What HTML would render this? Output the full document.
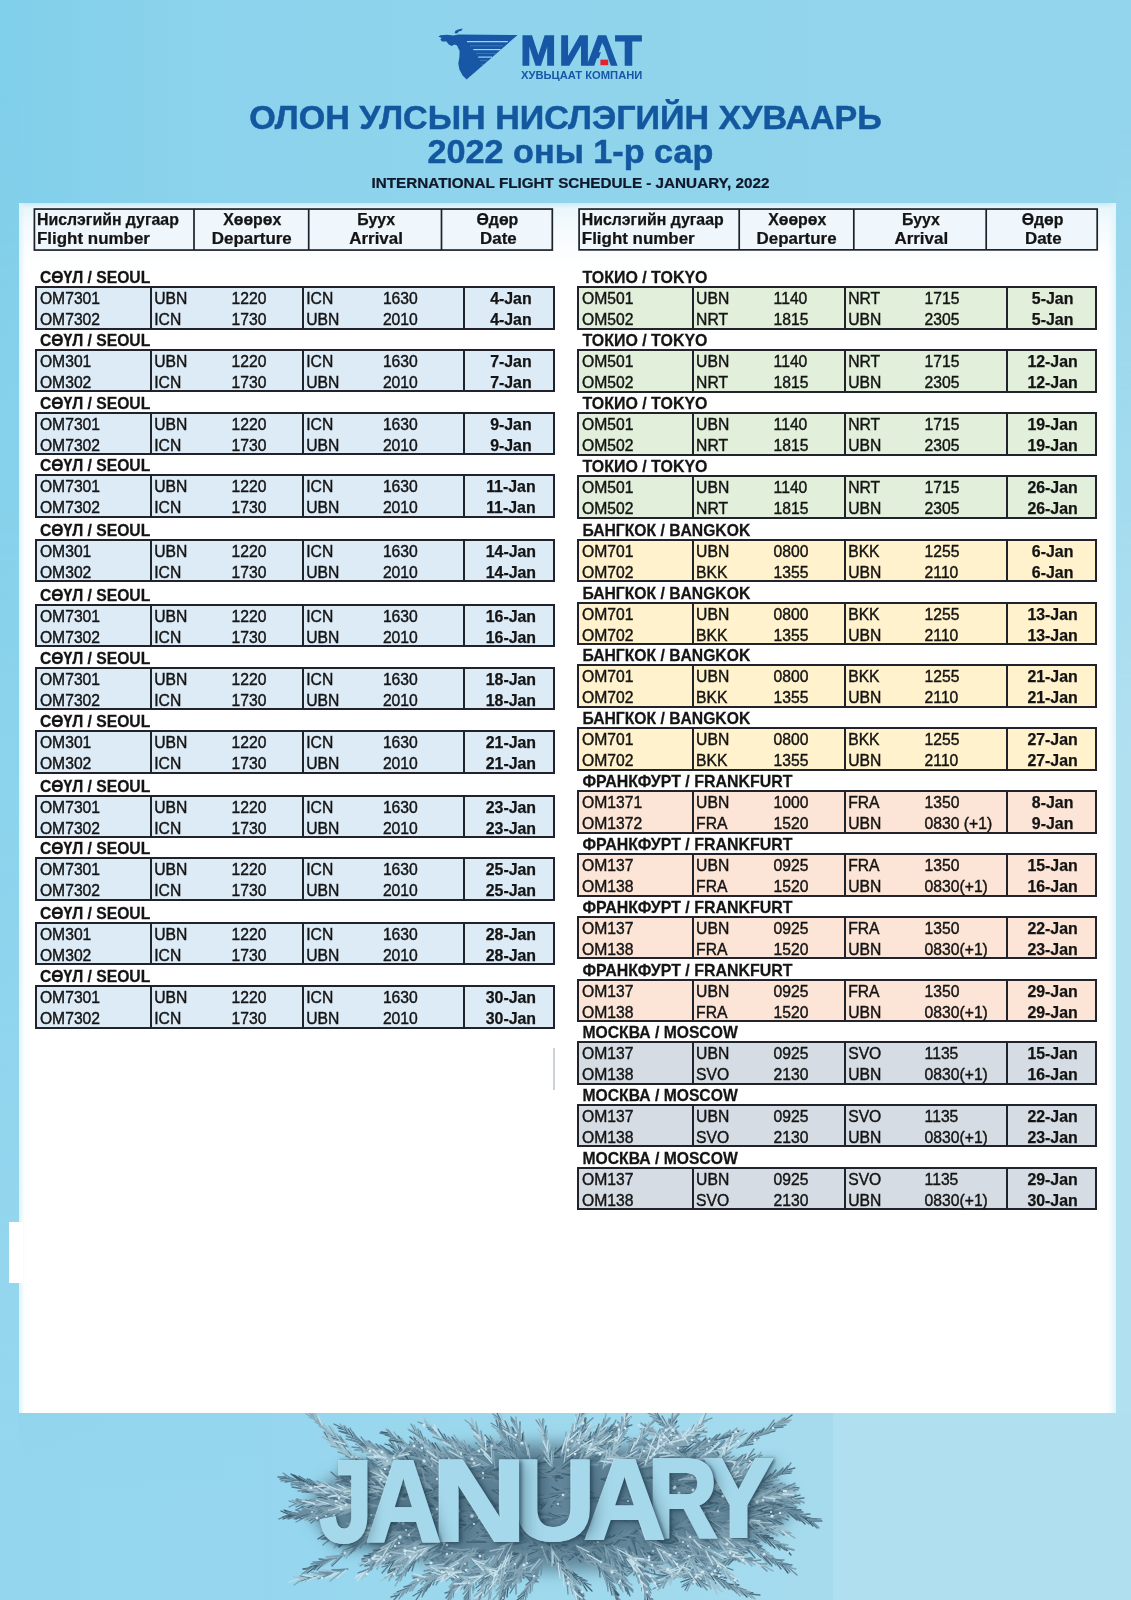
<!DOCTYPE html>
<html lang="mn">
<head>
<meta charset="utf-8">
<title>МИАТ - Олон улсын нислэгийн хуваарь</title>
<style>
html,body{margin:0;padding:0}
body{width:1131px;height:1600px;position:relative;overflow:hidden;font-family:"Liberation Sans",Arial,sans-serif;color:#141414;
 background:linear-gradient(180deg,rgba(150,215,238,0) 900px,rgba(150,215,238,.9) 1500px),linear-gradient(90deg,#80cfea 0,#8bd2ec 180px,#8fd4ec 450px,#93d5ec 100%)}
.rs{position:absolute;left:1116px;top:0;width:15px;height:1600px;background:linear-gradient(180deg,rgba(177,224,240,0) 120px,rgba(177,224,240,1) 760px)}
.ls{position:absolute;left:0;top:0;width:19px;height:1600px;background:linear-gradient(180deg,rgba(148,214,238,0) 100px,rgba(148,214,238,.6) 800px,rgba(148,214,238,1) 1450px)}
.br{position:absolute;left:833px;top:1413px;width:298px;height:187px;background:#b0dff0}
.wrap{position:absolute;left:0;top:0;width:1131px;height:1600px;filter:blur(.45px)}
.panel{position:absolute;left:19px;top:203px;width:1097px;height:1210px;
 background:linear-gradient(180deg,#c9eaf5 0,#e9f6fb 5px,#f3fafd 20px,#fbfdfe 45px,#fff 70px,#fff 100%)}
.panel:before{content:"";position:absolute;left:0;top:0;bottom:0;width:6px;background:linear-gradient(90deg,#dff2fa,rgba(255,255,255,0))}
.panel:after{content:"";position:absolute;right:0;top:0;bottom:0;width:8px;background:linear-gradient(270deg,#e3f4fa,rgba(255,255,255,0))}
.notch{position:absolute;left:9px;top:1222px;width:14px;height:61px;background:#fff}
.t1,.t2,.t3{position:absolute;left:0;width:1131px;text-align:center;font-weight:bold;white-space:nowrap;transform:scaleY(.95);transform-origin:50% 0}
.t1,.t2{color:#13579f;-webkit-text-stroke:.5px #13579f}
.t3{color:#10182b;-webkit-text-stroke:.25px #10182b}
.hdr{position:absolute;left:0;top:210px;width:1131px;height:0}
.hdr span{-webkit-text-stroke:.25px #141414;position:absolute;font-weight:bold;white-space:nowrap;transform:scaleY(.95);transform-origin:0 0;line-height:18px}
.hdr .a{font-size:15.85px;top:.8px;transform:scaleY(1)}
.hdr .b{font-size:16.95px;top:20.5px;transform:scaleY(.93)}
.hdr .m{text-align:center;width:200px}
.blk{position:absolute;box-sizing:border-box;border:2px solid #20232b}
.blk .v{position:absolute;top:0;bottom:0;width:2px;background:#20232b}
.blk .c{position:absolute;font-size:15.7px;-webkit-text-stroke:.4px #141414;line-height:18px;white-space:nowrap;transform:scaleY(1);transform-origin:0 0}
.blk .r1{top:2.2px}
.blk .r2{top:23.1px}
.blk .d{font-weight:bold;-webkit-text-stroke:.25px #141414;text-align:center;font-size:15.9px}
.lbl{-webkit-text-stroke:.25px #141414;position:absolute;top:-18.9px;font-weight:bold;font-size:15.7px;line-height:18px;white-space:nowrap;transform:scaleY(1.02);transform-origin:0 0}
.logo-t{position:absolute;left:519px;top:24px;font-size:43px;line-height:50px;font-weight:bold;color:#1757a6;white-space:nowrap;letter-spacing:0}
.logo-s{position:absolute;left:521px;top:69px;font-size:11.2px;line-height:14px;font-weight:bold;color:#1757a6;white-space:nowrap;transform:scaleY(.9);transform-origin:0 0}
.ban{position:absolute;left:265px;top:1413px;width:568px;height:187px;background:linear-gradient(90deg,#95d6ee 0,#9cd8ed 40%,#a6dbed 100%);overflow:hidden}
.jan{position:absolute;left:0;top:0}
.jan span{position:absolute;font-weight:bold;font-size:118px;line-height:118px;color:#a5d8eb;-webkit-text-stroke:2px #a5d8eb;transform-origin:0 0;filter:drop-shadow(-1px 0 0 #b9e2f1) drop-shadow(2.5px 1.5px 2px rgba(30,60,78,.75)) drop-shadow(5px 4px 7px rgba(30,60,78,.35))}
.lbl.w{font-size:15.95px;margin-left:.5px}
.lbl.n{margin-left:.5px}
</style>
</head>
<body>
<div class="wrap">
<svg style="position:absolute;left:430px;top:20px" width="100" height="70" viewBox="430 20 100 70">
 <path fill="#1757a6" d="M438.4 36.4 L440.6 35.2 L447 34.8 L453.5 35.4 L458.6 34.6 L517.6 35 L466.6 79.4 L462.6 75.6 L459.4 69.4 L458.3 63.6 L459.4 57 L459.6 51 L457 45.4 L454.6 44.4 L451.6 46 L448.8 44.4 L446.4 41.6 L442 41.4 L440.4 39.4 L441.6 38 Z"/>
 <path fill="#1757a6" d="M454.6 33.2 L455.4 30.8 L458 29.4 L462.8 28.6 L461.4 30.8 L458.8 31.6 L457 33.4 Z"/>
 <g stroke="#9ad5ee" stroke-linecap="butt">
  <path d="M467 41.7 L507.8 41.7" stroke-width="1.3"/>
  <path d="M473.3 49.6 L500.7 49.6" stroke-width="1.2"/>
  <path d="M478.2 57.1 L492 57.1" stroke-width="1.2"/>
  <path d="M470 45.8 L503 45.8 M476 53.4 L496 53.4 M480 60.6 L487.5 60.6 M481.5 64.4 L483.6 64.4" stroke-width=".5" stroke-opacity=".55"/>
 </g>
</svg>
<svg style="position:absolute;left:510px;top:20px" width="150" height="60" viewBox="510 20 150 60">
 <text x="520.2" y="65.2" dx="0 2.6 -3.6 -0.4" font-family="Liberation Sans, Arial, sans-serif" font-weight="bold" font-size="43.3" fill="#1757a6" stroke="#1757a6" stroke-width="1.3" stroke-linejoin="miter">МИАТ</text>
 <path fill="#8fd4ec" d="M595.9 66.4 L603.5 44.8 L611.1 66.4 Z"/>
 <rect x="600.4" y="59.6" width="7.8" height="5.6" fill="#e3242f"/>
</svg>
<div class="logo-s">ХУВЬЦААТ КОМПАНИ</div>
<div class="t1" style="top:99.9px;font-size:34.1px;line-height:38px">ОЛОН УЛСЫН НИСЛЭГИЙН ХУВААРЬ</div>
<div class="t2" style="left:5px;top:134px;font-size:34.2px;line-height:38px">2022 оны 1-р сар</div>
<div class="t3" style="left:5px;top:175.1px;font-size:15.25px;line-height:18px">INTERNATIONAL FLIGHT SCHEDULE - JANUARY, 2022</div>
<div class="ls"></div><div class="rs"></div><div class="br"></div>
<div class="panel"></div>
<div class="notch"></div>
<div style="position:absolute;left:553.3px;top:1047.5px;width:1.6px;height:42.5px;background:#ccd1d6"></div>
<svg style="position:absolute;left:0;top:200px" width="1131" height="60" viewBox="0 200 1131 60">
 <g fill="#eff7fc" stroke="#1e2129" stroke-width="1.7">
  <rect x="34.4" y="209.05" width="517.9" height="41"/>
  <rect x="579.1" y="209.05" width="518.1" height="40.8"/>
  <path fill="none" d="M194 209V250M308.7 209V250M441.5 209V250M739.2 209V249.8M853.8 209V249.8M986.2 209V249.8"/>
 </g>
</svg>
<div class="hdr">
 <span class="a" style="left:37px">Нислэгийн дугаар</span><span class="b" style="left:37px">Flight number</span>
 <span class="a m" style="left:152.2px">Хөөрөх</span><span class="b m" style="left:151.8px">Departure</span>
 <span class="a m" style="left:276.2px">Буух</span><span class="b m" style="left:276.1px">Arrival</span>
 <span class="a m" style="left:397.4px">Өдөр</span><span class="b m" style="left:398.4px">Date</span>
 <span class="a" style="left:581.8px">Нислэгийн дугаар</span><span class="b" style="left:581.8px">Flight number</span>
 <span class="a m" style="left:697.2px">Хөөрөх</span><span class="b m" style="left:696.6px">Departure</span>
 <span class="a m" style="left:820.9px">Буух</span><span class="b m" style="left:821.3px">Arrival</span>
 <span class="a m" style="left:942.6px">Өдөр</span><span class="b m" style="left:943.3px">Date</span>
</div>
<div class="blk" style="left:35px;top:286px;width:519.5px;height:43.5px;background:#ddebf7"><div class="lbl" style="left:2.9px">СӨҮЛ / SEOUL</div><i class="v" style="left:112.7px"></i><i class="v" style="left:264.7px"></i><i class="v" style="left:426.3px"></i><span class="c r1" style="left:2.9px">OM7301</span><span class="c r1" style="left:117.2px">UBN</span><span class="c r1" style="left:194.5px">1220</span><span class="c r1" style="left:269.2px">ICN</span><span class="c r1" style="left:345.9px">1630</span><span class="c d r1" style="left:430.3px;width:87.2px">4-Jan</span><span class="c r2" style="left:2.9px">OM7302</span><span class="c r2" style="left:117.2px">ICN</span><span class="c r2" style="left:194.5px">1730</span><span class="c r2" style="left:269.2px">UBN</span><span class="c r2" style="left:345.9px">2010</span><span class="c d r2" style="left:430.3px;width:87.2px">4-Jan</span></div>
<div class="blk" style="left:35px;top:348.5px;width:519.5px;height:43.5px;background:#ddebf7"><div class="lbl" style="left:2.9px">СӨҮЛ / SEOUL</div><i class="v" style="left:112.7px"></i><i class="v" style="left:264.7px"></i><i class="v" style="left:426.3px"></i><span class="c r1" style="left:2.9px">OM301</span><span class="c r1" style="left:117.2px">UBN</span><span class="c r1" style="left:194.5px">1220</span><span class="c r1" style="left:269.2px">ICN</span><span class="c r1" style="left:345.9px">1630</span><span class="c d r1" style="left:430.3px;width:87.2px">7-Jan</span><span class="c r2" style="left:2.9px">OM302</span><span class="c r2" style="left:117.2px">ICN</span><span class="c r2" style="left:194.5px">1730</span><span class="c r2" style="left:269.2px">UBN</span><span class="c r2" style="left:345.9px">2010</span><span class="c d r2" style="left:430.3px;width:87.2px">7-Jan</span></div>
<div class="blk" style="left:35px;top:411.5px;width:519.5px;height:43.5px;background:#ddebf7"><div class="lbl" style="left:2.9px">СӨҮЛ / SEOUL</div><i class="v" style="left:112.7px"></i><i class="v" style="left:264.7px"></i><i class="v" style="left:426.3px"></i><span class="c r1" style="left:2.9px">OM7301</span><span class="c r1" style="left:117.2px">UBN</span><span class="c r1" style="left:194.5px">1220</span><span class="c r1" style="left:269.2px">ICN</span><span class="c r1" style="left:345.9px">1630</span><span class="c d r1" style="left:430.3px;width:87.2px">9-Jan</span><span class="c r2" style="left:2.9px">OM7302</span><span class="c r2" style="left:117.2px">ICN</span><span class="c r2" style="left:194.5px">1730</span><span class="c r2" style="left:269.2px">UBN</span><span class="c r2" style="left:345.9px">2010</span><span class="c d r2" style="left:430.3px;width:87.2px">9-Jan</span></div>
<div class="blk" style="left:35px;top:474px;width:519.5px;height:43.5px;background:#ddebf7"><div class="lbl" style="left:2.9px">СӨҮЛ / SEOUL</div><i class="v" style="left:112.7px"></i><i class="v" style="left:264.7px"></i><i class="v" style="left:426.3px"></i><span class="c r1" style="left:2.9px">OM7301</span><span class="c r1" style="left:117.2px">UBN</span><span class="c r1" style="left:194.5px">1220</span><span class="c r1" style="left:269.2px">ICN</span><span class="c r1" style="left:345.9px">1630</span><span class="c d r1" style="left:430.3px;width:87.2px">11-Jan</span><span class="c r2" style="left:2.9px">OM7302</span><span class="c r2" style="left:117.2px">ICN</span><span class="c r2" style="left:194.5px">1730</span><span class="c r2" style="left:269.2px">UBN</span><span class="c r2" style="left:345.9px">2010</span><span class="c d r2" style="left:430.3px;width:87.2px">11-Jan</span></div>
<div class="blk" style="left:35px;top:538.5px;width:519.5px;height:43.5px;background:#ddebf7"><div class="lbl" style="left:2.9px">СӨҮЛ / SEOUL</div><i class="v" style="left:112.7px"></i><i class="v" style="left:264.7px"></i><i class="v" style="left:426.3px"></i><span class="c r1" style="left:2.9px">OM301</span><span class="c r1" style="left:117.2px">UBN</span><span class="c r1" style="left:194.5px">1220</span><span class="c r1" style="left:269.2px">ICN</span><span class="c r1" style="left:345.9px">1630</span><span class="c d r1" style="left:430.3px;width:87.2px">14-Jan</span><span class="c r2" style="left:2.9px">OM302</span><span class="c r2" style="left:117.2px">ICN</span><span class="c r2" style="left:194.5px">1730</span><span class="c r2" style="left:269.2px">UBN</span><span class="c r2" style="left:345.9px">2010</span><span class="c d r2" style="left:430.3px;width:87.2px">14-Jan</span></div>
<div class="blk" style="left:35px;top:603.5px;width:519.5px;height:43.5px;background:#ddebf7"><div class="lbl" style="left:2.9px">СӨҮЛ / SEOUL</div><i class="v" style="left:112.7px"></i><i class="v" style="left:264.7px"></i><i class="v" style="left:426.3px"></i><span class="c r1" style="left:2.9px">OM7301</span><span class="c r1" style="left:117.2px">UBN</span><span class="c r1" style="left:194.5px">1220</span><span class="c r1" style="left:269.2px">ICN</span><span class="c r1" style="left:345.9px">1630</span><span class="c d r1" style="left:430.3px;width:87.2px">16-Jan</span><span class="c r2" style="left:2.9px">OM7302</span><span class="c r2" style="left:117.2px">ICN</span><span class="c r2" style="left:194.5px">1730</span><span class="c r2" style="left:269.2px">UBN</span><span class="c r2" style="left:345.9px">2010</span><span class="c d r2" style="left:430.3px;width:87.2px">16-Jan</span></div>
<div class="blk" style="left:35px;top:666.5px;width:519.5px;height:43.5px;background:#ddebf7"><div class="lbl" style="left:2.9px">СӨҮЛ / SEOUL</div><i class="v" style="left:112.7px"></i><i class="v" style="left:264.7px"></i><i class="v" style="left:426.3px"></i><span class="c r1" style="left:2.9px">OM7301</span><span class="c r1" style="left:117.2px">UBN</span><span class="c r1" style="left:194.5px">1220</span><span class="c r1" style="left:269.2px">ICN</span><span class="c r1" style="left:345.9px">1630</span><span class="c d r1" style="left:430.3px;width:87.2px">18-Jan</span><span class="c r2" style="left:2.9px">OM7302</span><span class="c r2" style="left:117.2px">ICN</span><span class="c r2" style="left:194.5px">1730</span><span class="c r2" style="left:269.2px">UBN</span><span class="c r2" style="left:345.9px">2010</span><span class="c d r2" style="left:430.3px;width:87.2px">18-Jan</span></div>
<div class="blk" style="left:35px;top:730px;width:519.5px;height:43.5px;background:#ddebf7"><div class="lbl" style="left:2.9px">СӨҮЛ / SEOUL</div><i class="v" style="left:112.7px"></i><i class="v" style="left:264.7px"></i><i class="v" style="left:426.3px"></i><span class="c r1" style="left:2.9px">OM301</span><span class="c r1" style="left:117.2px">UBN</span><span class="c r1" style="left:194.5px">1220</span><span class="c r1" style="left:269.2px">ICN</span><span class="c r1" style="left:345.9px">1630</span><span class="c d r1" style="left:430.3px;width:87.2px">21-Jan</span><span class="c r2" style="left:2.9px">OM302</span><span class="c r2" style="left:117.2px">ICN</span><span class="c r2" style="left:194.5px">1730</span><span class="c r2" style="left:269.2px">UBN</span><span class="c r2" style="left:345.9px">2010</span><span class="c d r2" style="left:430.3px;width:87.2px">21-Jan</span></div>
<div class="blk" style="left:35px;top:794.5px;width:519.5px;height:43.5px;background:#ddebf7"><div class="lbl" style="left:2.9px">СӨҮЛ / SEOUL</div><i class="v" style="left:112.7px"></i><i class="v" style="left:264.7px"></i><i class="v" style="left:426.3px"></i><span class="c r1" style="left:2.9px">OM7301</span><span class="c r1" style="left:117.2px">UBN</span><span class="c r1" style="left:194.5px">1220</span><span class="c r1" style="left:269.2px">ICN</span><span class="c r1" style="left:345.9px">1630</span><span class="c d r1" style="left:430.3px;width:87.2px">23-Jan</span><span class="c r2" style="left:2.9px">OM7302</span><span class="c r2" style="left:117.2px">ICN</span><span class="c r2" style="left:194.5px">1730</span><span class="c r2" style="left:269.2px">UBN</span><span class="c r2" style="left:345.9px">2010</span><span class="c d r2" style="left:430.3px;width:87.2px">23-Jan</span></div>
<div class="blk" style="left:35px;top:857px;width:519.5px;height:43.5px;background:#ddebf7"><div class="lbl" style="left:2.9px">СӨҮЛ / SEOUL</div><i class="v" style="left:112.7px"></i><i class="v" style="left:264.7px"></i><i class="v" style="left:426.3px"></i><span class="c r1" style="left:2.9px">OM7301</span><span class="c r1" style="left:117.2px">UBN</span><span class="c r1" style="left:194.5px">1220</span><span class="c r1" style="left:269.2px">ICN</span><span class="c r1" style="left:345.9px">1630</span><span class="c d r1" style="left:430.3px;width:87.2px">25-Jan</span><span class="c r2" style="left:2.9px">OM7302</span><span class="c r2" style="left:117.2px">ICN</span><span class="c r2" style="left:194.5px">1730</span><span class="c r2" style="left:269.2px">UBN</span><span class="c r2" style="left:345.9px">2010</span><span class="c d r2" style="left:430.3px;width:87.2px">25-Jan</span></div>
<div class="blk" style="left:35px;top:921.5px;width:519.5px;height:43.5px;background:#ddebf7"><div class="lbl" style="left:2.9px">СӨҮЛ / SEOUL</div><i class="v" style="left:112.7px"></i><i class="v" style="left:264.7px"></i><i class="v" style="left:426.3px"></i><span class="c r1" style="left:2.9px">OM301</span><span class="c r1" style="left:117.2px">UBN</span><span class="c r1" style="left:194.5px">1220</span><span class="c r1" style="left:269.2px">ICN</span><span class="c r1" style="left:345.9px">1630</span><span class="c d r1" style="left:430.3px;width:87.2px">28-Jan</span><span class="c r2" style="left:2.9px">OM302</span><span class="c r2" style="left:117.2px">ICN</span><span class="c r2" style="left:194.5px">1730</span><span class="c r2" style="left:269.2px">UBN</span><span class="c r2" style="left:345.9px">2010</span><span class="c d r2" style="left:430.3px;width:87.2px">28-Jan</span></div>
<div class="blk" style="left:35px;top:985px;width:519.5px;height:43.5px;background:#ddebf7"><div class="lbl" style="left:2.9px">СӨҮЛ / SEOUL</div><i class="v" style="left:112.7px"></i><i class="v" style="left:264.7px"></i><i class="v" style="left:426.3px"></i><span class="c r1" style="left:2.9px">OM7301</span><span class="c r1" style="left:117.2px">UBN</span><span class="c r1" style="left:194.5px">1220</span><span class="c r1" style="left:269.2px">ICN</span><span class="c r1" style="left:345.9px">1630</span><span class="c d r1" style="left:430.3px;width:87.2px">30-Jan</span><span class="c r2" style="left:2.9px">OM7302</span><span class="c r2" style="left:117.2px">ICN</span><span class="c r2" style="left:194.5px">1730</span><span class="c r2" style="left:269.2px">UBN</span><span class="c r2" style="left:345.9px">2010</span><span class="c d r2" style="left:430.3px;width:87.2px">30-Jan</span></div>
<div class="blk" style="left:576.5px;top:286px;width:520.2px;height:43.5px;background:#e2efda"><div class="lbl w" style="left:3.5px">ТОКИО / TOKYO</div><i class="v" style="left:113.1px"></i><i class="v" style="left:265.3px"></i><i class="v" style="left:427px"></i><span class="c r1" style="left:3.5px">OM501</span><span class="c r1" style="left:117.6px">UBN</span><span class="c r1" style="left:195.1px">1140</span><span class="c r1" style="left:269.7px">NRT</span><span class="c r1" style="left:346.1px">1715</span><span class="c d r1" style="left:430.5px;width:87.2px">5-Jan</span><span class="c r2" style="left:3.5px">OM502</span><span class="c r2" style="left:117.6px">NRT</span><span class="c r2" style="left:195.1px">1815</span><span class="c r2" style="left:269.7px">UBN</span><span class="c r2" style="left:346.1px">2305</span><span class="c d r2" style="left:430.5px;width:87.2px">5-Jan</span></div>
<div class="blk" style="left:576.5px;top:349px;width:520.2px;height:43.5px;background:#e2efda"><div class="lbl w" style="left:3.5px">ТОКИО / TOKYO</div><i class="v" style="left:113.1px"></i><i class="v" style="left:265.3px"></i><i class="v" style="left:427px"></i><span class="c r1" style="left:3.5px">OM501</span><span class="c r1" style="left:117.6px">UBN</span><span class="c r1" style="left:195.1px">1140</span><span class="c r1" style="left:269.7px">NRT</span><span class="c r1" style="left:346.1px">1715</span><span class="c d r1" style="left:430.5px;width:87.2px">12-Jan</span><span class="c r2" style="left:3.5px">OM502</span><span class="c r2" style="left:117.6px">NRT</span><span class="c r2" style="left:195.1px">1815</span><span class="c r2" style="left:269.7px">UBN</span><span class="c r2" style="left:346.1px">2305</span><span class="c d r2" style="left:430.5px;width:87.2px">12-Jan</span></div>
<div class="blk" style="left:576.5px;top:412px;width:520.2px;height:43.5px;background:#e2efda"><div class="lbl w" style="left:3.5px">ТОКИО / TOKYO</div><i class="v" style="left:113.1px"></i><i class="v" style="left:265.3px"></i><i class="v" style="left:427px"></i><span class="c r1" style="left:3.5px">OM501</span><span class="c r1" style="left:117.6px">UBN</span><span class="c r1" style="left:195.1px">1140</span><span class="c r1" style="left:269.7px">NRT</span><span class="c r1" style="left:346.1px">1715</span><span class="c d r1" style="left:430.5px;width:87.2px">19-Jan</span><span class="c r2" style="left:3.5px">OM502</span><span class="c r2" style="left:117.6px">NRT</span><span class="c r2" style="left:195.1px">1815</span><span class="c r2" style="left:269.7px">UBN</span><span class="c r2" style="left:346.1px">2305</span><span class="c d r2" style="left:430.5px;width:87.2px">19-Jan</span></div>
<div class="blk" style="left:576.5px;top:475px;width:520.2px;height:43.5px;background:#e2efda"><div class="lbl w" style="left:3.5px">ТОКИО / TOKYO</div><i class="v" style="left:113.1px"></i><i class="v" style="left:265.3px"></i><i class="v" style="left:427px"></i><span class="c r1" style="left:3.5px">OM501</span><span class="c r1" style="left:117.6px">UBN</span><span class="c r1" style="left:195.1px">1140</span><span class="c r1" style="left:269.7px">NRT</span><span class="c r1" style="left:346.1px">1715</span><span class="c d r1" style="left:430.5px;width:87.2px">26-Jan</span><span class="c r2" style="left:3.5px">OM502</span><span class="c r2" style="left:117.6px">NRT</span><span class="c r2" style="left:195.1px">1815</span><span class="c r2" style="left:269.7px">UBN</span><span class="c r2" style="left:346.1px">2305</span><span class="c d r2" style="left:430.5px;width:87.2px">26-Jan</span></div>
<div class="blk" style="left:576.5px;top:538.5px;width:520.2px;height:43.5px;background:#fff2cc"><div class="lbl n" style="left:3.5px">БАНГКОК / BANGKOK</div><i class="v" style="left:113.1px"></i><i class="v" style="left:265.3px"></i><i class="v" style="left:427px"></i><span class="c r1" style="left:3.5px">OM701</span><span class="c r1" style="left:117.6px">UBN</span><span class="c r1" style="left:195.1px">0800</span><span class="c r1" style="left:269.7px">BKK</span><span class="c r1" style="left:346.1px">1255</span><span class="c d r1" style="left:430.5px;width:87.2px">6-Jan</span><span class="c r2" style="left:3.5px">OM702</span><span class="c r2" style="left:117.6px">BKK</span><span class="c r2" style="left:195.1px">1355</span><span class="c r2" style="left:269.7px">UBN</span><span class="c r2" style="left:346.1px">2110</span><span class="c d r2" style="left:430.5px;width:87.2px">6-Jan</span></div>
<div class="blk" style="left:576.5px;top:601.5px;width:520.2px;height:43.5px;background:#fff2cc"><div class="lbl n" style="left:3.5px">БАНГКОК / BANGKOK</div><i class="v" style="left:113.1px"></i><i class="v" style="left:265.3px"></i><i class="v" style="left:427px"></i><span class="c r1" style="left:3.5px">OM701</span><span class="c r1" style="left:117.6px">UBN</span><span class="c r1" style="left:195.1px">0800</span><span class="c r1" style="left:269.7px">BKK</span><span class="c r1" style="left:346.1px">1255</span><span class="c d r1" style="left:430.5px;width:87.2px">13-Jan</span><span class="c r2" style="left:3.5px">OM702</span><span class="c r2" style="left:117.6px">BKK</span><span class="c r2" style="left:195.1px">1355</span><span class="c r2" style="left:269.7px">UBN</span><span class="c r2" style="left:346.1px">2110</span><span class="c d r2" style="left:430.5px;width:87.2px">13-Jan</span></div>
<div class="blk" style="left:576.5px;top:664px;width:520.2px;height:43.5px;background:#fff2cc"><div class="lbl n" style="left:3.5px">БАНГКОК / BANGKOK</div><i class="v" style="left:113.1px"></i><i class="v" style="left:265.3px"></i><i class="v" style="left:427px"></i><span class="c r1" style="left:3.5px">OM701</span><span class="c r1" style="left:117.6px">UBN</span><span class="c r1" style="left:195.1px">0800</span><span class="c r1" style="left:269.7px">BKK</span><span class="c r1" style="left:346.1px">1255</span><span class="c d r1" style="left:430.5px;width:87.2px">21-Jan</span><span class="c r2" style="left:3.5px">OM702</span><span class="c r2" style="left:117.6px">BKK</span><span class="c r2" style="left:195.1px">1355</span><span class="c r2" style="left:269.7px">UBN</span><span class="c r2" style="left:346.1px">2110</span><span class="c d r2" style="left:430.5px;width:87.2px">21-Jan</span></div>
<div class="blk" style="left:576.5px;top:727px;width:520.2px;height:43.5px;background:#fff2cc"><div class="lbl n" style="left:3.5px">БАНГКОК / BANGKOK</div><i class="v" style="left:113.1px"></i><i class="v" style="left:265.3px"></i><i class="v" style="left:427px"></i><span class="c r1" style="left:3.5px">OM701</span><span class="c r1" style="left:117.6px">UBN</span><span class="c r1" style="left:195.1px">0800</span><span class="c r1" style="left:269.7px">BKK</span><span class="c r1" style="left:346.1px">1255</span><span class="c d r1" style="left:430.5px;width:87.2px">27-Jan</span><span class="c r2" style="left:3.5px">OM702</span><span class="c r2" style="left:117.6px">BKK</span><span class="c r2" style="left:195.1px">1355</span><span class="c r2" style="left:269.7px">UBN</span><span class="c r2" style="left:346.1px">2110</span><span class="c d r2" style="left:430.5px;width:87.2px">27-Jan</span></div>
<div class="blk" style="left:576.5px;top:790px;width:520.2px;height:43.5px;background:#fce4d6"><div class="lbl w" style="left:3.5px">ФРАНКФУРТ / FRANKFURT</div><i class="v" style="left:113.1px"></i><i class="v" style="left:265.3px"></i><i class="v" style="left:427px"></i><span class="c r1" style="left:3.5px">OM1371</span><span class="c r1" style="left:117.6px">UBN</span><span class="c r1" style="left:195.1px">1000</span><span class="c r1" style="left:269.7px">FRA</span><span class="c r1" style="left:346.1px">1350</span><span class="c d r1" style="left:430.5px;width:87.2px">8-Jan</span><span class="c r2" style="left:3.5px">OM1372</span><span class="c r2" style="left:117.6px">FRA</span><span class="c r2" style="left:195.1px">1520</span><span class="c r2" style="left:269.7px">UBN</span><span class="c r2" style="left:346.1px">0830 (+1)</span><span class="c d r2" style="left:430.5px;width:87.2px">9-Jan</span></div>
<div class="blk" style="left:576.5px;top:853px;width:520.2px;height:43.5px;background:#fce4d6"><div class="lbl w" style="left:3.5px">ФРАНКФУРТ / FRANKFURT</div><i class="v" style="left:113.1px"></i><i class="v" style="left:265.3px"></i><i class="v" style="left:427px"></i><span class="c r1" style="left:3.5px">OM137</span><span class="c r1" style="left:117.6px">UBN</span><span class="c r1" style="left:195.1px">0925</span><span class="c r1" style="left:269.7px">FRA</span><span class="c r1" style="left:346.1px">1350</span><span class="c d r1" style="left:430.5px;width:87.2px">15-Jan</span><span class="c r2" style="left:3.5px">OM138</span><span class="c r2" style="left:117.6px">FRA</span><span class="c r2" style="left:195.1px">1520</span><span class="c r2" style="left:269.7px">UBN</span><span class="c r2" style="left:346.1px">0830(+1)</span><span class="c d r2" style="left:430.5px;width:87.2px">16-Jan</span></div>
<div class="blk" style="left:576.5px;top:915.5px;width:520.2px;height:43.5px;background:#fce4d6"><div class="lbl w" style="left:3.5px">ФРАНКФУРТ / FRANKFURT</div><i class="v" style="left:113.1px"></i><i class="v" style="left:265.3px"></i><i class="v" style="left:427px"></i><span class="c r1" style="left:3.5px">OM137</span><span class="c r1" style="left:117.6px">UBN</span><span class="c r1" style="left:195.1px">0925</span><span class="c r1" style="left:269.7px">FRA</span><span class="c r1" style="left:346.1px">1350</span><span class="c d r1" style="left:430.5px;width:87.2px">22-Jan</span><span class="c r2" style="left:3.5px">OM138</span><span class="c r2" style="left:117.6px">FRA</span><span class="c r2" style="left:195.1px">1520</span><span class="c r2" style="left:269.7px">UBN</span><span class="c r2" style="left:346.1px">0830(+1)</span><span class="c d r2" style="left:430.5px;width:87.2px">23-Jan</span></div>
<div class="blk" style="left:576.5px;top:978.5px;width:520.2px;height:43.5px;background:#fce4d6"><div class="lbl w" style="left:3.5px">ФРАНКФУРТ / FRANKFURT</div><i class="v" style="left:113.1px"></i><i class="v" style="left:265.3px"></i><i class="v" style="left:427px"></i><span class="c r1" style="left:3.5px">OM137</span><span class="c r1" style="left:117.6px">UBN</span><span class="c r1" style="left:195.1px">0925</span><span class="c r1" style="left:269.7px">FRA</span><span class="c r1" style="left:346.1px">1350</span><span class="c d r1" style="left:430.5px;width:87.2px">29-Jan</span><span class="c r2" style="left:3.5px">OM138</span><span class="c r2" style="left:117.6px">FRA</span><span class="c r2" style="left:195.1px">1520</span><span class="c r2" style="left:269.7px">UBN</span><span class="c r2" style="left:346.1px">0830(+1)</span><span class="c d r2" style="left:430.5px;width:87.2px">29-Jan</span></div>
<div class="blk" style="left:576.5px;top:1041px;width:520.2px;height:43.5px;background:#d6dce4"><div class="lbl n" style="left:3.5px">МОСКВА / MOSCOW</div><i class="v" style="left:113.1px"></i><i class="v" style="left:265.3px"></i><i class="v" style="left:427px"></i><span class="c r1" style="left:3.5px">OM137</span><span class="c r1" style="left:117.6px">UBN</span><span class="c r1" style="left:195.1px">0925</span><span class="c r1" style="left:269.7px">SVO</span><span class="c r1" style="left:346.1px">1135</span><span class="c d r1" style="left:430.5px;width:87.2px">15-Jan</span><span class="c r2" style="left:3.5px">OM138</span><span class="c r2" style="left:117.6px">SVO</span><span class="c r2" style="left:195.1px">2130</span><span class="c r2" style="left:269.7px">UBN</span><span class="c r2" style="left:346.1px">0830(+1)</span><span class="c d r2" style="left:430.5px;width:87.2px">16-Jan</span></div>
<div class="blk" style="left:576.5px;top:1103.5px;width:520.2px;height:43.5px;background:#d6dce4"><div class="lbl n" style="left:3.5px">МОСКВА / MOSCOW</div><i class="v" style="left:113.1px"></i><i class="v" style="left:265.3px"></i><i class="v" style="left:427px"></i><span class="c r1" style="left:3.5px">OM137</span><span class="c r1" style="left:117.6px">UBN</span><span class="c r1" style="left:195.1px">0925</span><span class="c r1" style="left:269.7px">SVO</span><span class="c r1" style="left:346.1px">1135</span><span class="c d r1" style="left:430.5px;width:87.2px">22-Jan</span><span class="c r2" style="left:3.5px">OM138</span><span class="c r2" style="left:117.6px">SVO</span><span class="c r2" style="left:195.1px">2130</span><span class="c r2" style="left:269.7px">UBN</span><span class="c r2" style="left:346.1px">0830(+1)</span><span class="c d r2" style="left:430.5px;width:87.2px">23-Jan</span></div>
<div class="blk" style="left:576.5px;top:1166.5px;width:520.2px;height:43.5px;background:#d6dce4"><div class="lbl n" style="left:3.5px">МОСКВА / MOSCOW</div><i class="v" style="left:113.1px"></i><i class="v" style="left:265.3px"></i><i class="v" style="left:427px"></i><span class="c r1" style="left:3.5px">OM137</span><span class="c r1" style="left:117.6px">UBN</span><span class="c r1" style="left:195.1px">0925</span><span class="c r1" style="left:269.7px">SVO</span><span class="c r1" style="left:346.1px">1135</span><span class="c d r1" style="left:430.5px;width:87.2px">29-Jan</span><span class="c r2" style="left:3.5px">OM138</span><span class="c r2" style="left:117.6px">SVO</span><span class="c r2" style="left:195.1px">2130</span><span class="c r2" style="left:269.7px">UBN</span><span class="c r2" style="left:346.1px">0830(+1)</span><span class="c d r2" style="left:430.5px;width:87.2px">30-Jan</span></div>

<div class="ban">
<svg style="position:absolute;left:0;top:0" width="568" height="187" viewBox="0 0 568 187">
<defs><filter id="bl" x="-20%" y="-40%" width="140%" height="180%"><feGaussianBlur stdDeviation="8"/></filter></defs>
<ellipse cx="285" cy="94" rx="240" ry="64" fill="#62869a" filter="url(#bl)"/>
<path d="M256 100l-16 4M254 100l-12 -1M248 101l-13 7M244 101l-13 3M242 101l-11 -2M240 101l-16 6M236 101l-11 6M228 102l-10 3M226 102l-16 -2M224 102l-14 6M220 102l-9 4M218 102l-12 -4M216 103l-10 3M210 103l-12 -3M204 103l-10 5M200 103l-8 4M198 104l-8 -2M377 139l12 4M381 139l18 7M385 140l10 5M397 141l8 5M407 142l9 -2M411 143l9 -1M413 143l12 4M506 91l14 0M513 94l18 1M519 96l13 11M520 97l16 -0M530 101l10 10M537 104l9 6M539 105l13 1M541 106l7 7M289 134l-18 -4M272 138l-15 6M258 141l-12 -1M256 141l-11 8M254 142l-10 -2M252 142l-9 4M249 143l-9 6M247 143l-11 -2M278 64l20 1M280 63l10 -8M290 59l15 -3M295 57l14 -9M303 54l13 -9M307 53l9 -7M312 51l12 -2M320 48l13 0M322 48l12 -8M331 44l10 -0M337 42l7 -6M342 40l10 -1M359 89l-13 -8M357 89l-18 1M351 88l-14 -8M349 88l-15 3M345 87l-11 -0M335 85l-12 -8M333 85l-15 1M329 84l-14 3M323 83l-10 -7M321 83l-10 2M299 79l-8 -3M295 79l-8 -5M173 62l-8 8M162 68l-7 8M159 70l-8 6M148 75l-10 11M144 77l-9 10M137 81l-8 10M134 83l-8 7M132 84l-12 1M361 123l-12 2M359 124l-12 9M356 125l-11 7M348 128l-10 7M344 129l-11 8M339 131l-10 1M329 135l-8 7M324 137l-11 -0M320 138l-10 0M316 140l-12 0M314 140l-7 4M313 141l-9 1M311 142l-7 5M396 69l12 -3M402 70l14 7M406 70l13 4M420 71l12 -2M438 73l11 3M317 133l10 -7M325 131l9 -7M327 131l12 -0M333 130l10 -5M337 129l8 -6M341 128l9 -6M343 127l13 -1M347 126l14 1M354 124l9 1M358 123l12 2M368 121l8 -6M480 102l15 -5M482 103l13 9M484 103l13 -4M488 104l12 -4M492 104l11 -2M496 105l14 -3M502 106l8 5M510 107l8 4M157 80l13 -4M159 79l13 -12M164 76l16 -4M166 74l10 -11M176 68l8 -8M195 57l12 -1M94 84l13 3M102 83l18 0M106 82l12 1M114 81l13 1M124 80l10 -4M126 79l14 4M142 77l13 1M144 77l9 -5M158 75l11 3M238 106l11 14M241 109l11 10M246 112l14 6M248 113l10 9M255 117l8 8M258 119l10 10M260 121l11 3M265 124l8 11M278 133l6 6M303 103l-13 -1M295 104l-11 -4M289 105l-12 4M283 105l-10 -2M281 105l-11 6M261 107l-10 3M249 108l-10 6M250 67l15 -8M252 66l15 1M258 65l16 -10M260 65l12 0M266 64l11 -5M278 62l12 -7M284 61l11 3M292 60l13 2M294 60l8 -5M252 49l12 11M257 51l18 1M261 53l12 0M270 56l9 7M285 62l7 6M287 62l8 1M424 125l-17 4M420 127l-17 6M413 131l-14 5M411 132l-10 12M403 137l-12 2M394 142l-10 10M384 148l-6 8M379 151l-8 1M171 66l-9 -13M164 62l-6 -8M152 55l-13 -4M150 54l-7 -11M145 51l-8 -1M435 111l18 -3M437 110l9 -11M442 106l17 -6M447 103l6 -10M457 96l7 -9M460 94l10 -10M465 91l12 -4M466 90l6 -9M364 83l12 3M368 85l17 5M371 87l17 3M376 90l11 11M380 92l10 8M387 96l10 9M276 133l-12 0M254 128l-14 -9M243 125l-10 -7M241 125l-11 -1M233 123l-13 0M229 122l-10 -1M227 122l-9 -5M221 120l-9 -0M152 131l-9 -10M150 130l-13 -2M138 124l-11 -11M127 118l-7 -7M259 79l-10 -10M245 72l-10 -7M231 65l-6 -6M202 129l19 -0M217 124l16 -2M223 121l9 -6M232 118l11 -2M236 117l7 -1M238 116l7 -5M256 58l17 -1M260 56l15 -4M267 53l16 -5M271 51l16 -3M281 46l15 -2M283 45l11 -8M287 43l12 -9M289 42l13 -1M290 41l9 -10M297 37l7 -7M301 36l9 -9M306 33l12 -3M336 66l16 4M338 66l12 -4M350 66l18 -3M354 66l15 -3M364 66l11 4M382 66l11 -3M386 66l10 -3M388 66l11 5M390 66l10 -4M394 66l8 -1M398 66l7 -3M130 120l17 -3M134 119l12 -3M137 117l18 -3M139 116l12 -11M145 113l15 -2M150 111l9 -10M159 106l14 -4M164 104l7 -8M166 103l9 -2M172 100l10 -7M173 99l9 -1M177 98l12 -3M181 96l9 -1M182 95l6 -5M184 94l11 -0M158 130l-15 1M156 131l-15 11M152 132l-14 9M131 138l-11 1M123 141l-9 -1M122 141l-10 7M110 145l-7 4M108 145l-11 1M309 76l-17 2M298 81l-11 3M296 82l-9 6M293 84l-7 10M282 89l-6 7M280 90l-13 3M278 91l-7 7M277 92l-13 1M273 94l-8 1M271 95l-9 8M270 96l-10 0M268 97l-9 8M194 89l-19 1M191 91l-16 -1M179 95l-13 2M166 100l-9 10M161 102l-15 -0M159 102l-8 8M144 108l-8 7M142 109l-13 -1M134 111l-13 0M362 54l13 -11M366 52l8 -7M375 49l10 -0M381 46l12 -9M387 44l12 0M392 42l10 -8M396 46l14 1M410 42l11 -10M415 40l11 -2M417 39l12 -10M421 38l13 -8M423 37l9 1M432 34l9 -9M434 33l8 -1M81 89l-17 8M79 89l-12 -4M73 89l-16 6M71 89l-15 -6M67 90l-14 -3M65 90l-10 3M55 91l-10 -2M53 91l-11 4M45 91l-8 3M127 108l17 0M131 109l15 -1M144 112l13 8M146 113l10 -2M148 113l12 5M154 114l12 -1M156 115l10 5M158 115l10 0M170 118l9 -0M301 139l16 0M175 130l-17 9M171 131l-15 9M169 131l-11 -1M165 131l-17 -3M161 132l-13 -2M157 132l-10 -2M155 133l-12 6M151 133l-12 4M149 133l-15 -4M139 135l-9 5M131 136l-10 4M60 75l-16 -1M52 73l-12 2M51 72l-9 -6M49 72l-12 -1M43 70l-14 -8M39 69l-11 -7M35 68l-9 -7M155 77l-15 -9M150 76l-18 2M144 74l-12 -5M142 74l-14 2M136 73l-10 -6M132 72l-10 -5M130 72l-15 0M120 70l-11 -6M118 69l-10 2M104 67l-9 -4M102 66l-12 2M97 65l-9 -5M95 65l-8 0M51 101l-16 5M43 101l-12 5M35 101l-11 2M33 101l-14 -4M31 102l-13 4M29 102l-9 -4M27 102l-9 2M25 102l-9 -4M141 123l13 8M147 124l13 -3M149 124l15 10M167 127l13 -3M170 128l13 -1M172 128l7 4M176 129l9 4M214 107l-12 7M208 109l-17 2M201 112l-12 2M199 112l-11 9M195 114l-13 8M193 114l-10 -1M191 115l-10 7M186 117l-10 1M351 102l13 -1M369 104l10 5M381 106l11 5M389 107l11 5M164 93l15 12M166 94l12 1M168 94l12 7M175 96l12 6M199 103l8 6M200 103l9 -0M202 104l11 5M206 105l12 7M216 107l12 -0M220 108l9 -1M222 109l7 4M230 67l-11 -8M227 66l-11 -8M225 65l-12 0M221 64l-13 0M205 61l-16 2M189 58l-11 1M184 56l-9 -6M172 54l-9 -4M166 52l-12 2M157 81l18 -1M159 81l18 6M161 81l17 -4M163 82l12 7M166 82l12 6M172 83l14 -4M180 85l14 -1M184 85l11 -2M188 86l13 -3M192 87l9 -2M198 88l8 5M202 88l11 6M204 89l9 -1M208 89l9 -1M168 108l15 5M176 108l11 5M178 109l11 -1M185 109l14 -4M187 109l13 4M189 109l13 -2M191 109l12 3M195 110l8 4M197 110l11 -3M199 110l9 3M201 110l12 -1M330 86l13 -4M356 88l10 5M384 90l9 3M257 118l16 3M273 125l13 9M275 126l16 0M281 128l8 9M290 132l12 -0M291 133l10 9M304 139l12 3M308 141l12 3M310 142l6 7M312 142l12 0M315 144l12 3M313 121l9 10M314 122l12 2M318 124l11 2M320 125l9 8M321 126l15 5M326 129l11 10M330 131l8 8M339 136l12 2M386 126l16 -1M390 124l14 -0M399 120l7 -7M404 118l13 -3M422 109l10 -0M426 108l12 -1M430 106l8 -1M431 105l9 -6M433 104l11 -1M496 92l-16 3M492 92l-15 4M478 91l-15 -5M474 91l-13 -6M452 89l-10 3M448 89l-10 2M446 89l-10 -5M127 128l15 13M133 130l18 2M138 132l8 9M164 142l10 7M166 143l10 1M177 147l9 -0M179 148l8 9M183 150l9 9M185 150l8 -0M187 151l8 6M190 152l7 4M192 105l-18 -2M189 103l-18 -4M174 96l-13 -1M169 94l-10 -7M167 93l-11 -2M156 88l-10 -1M389 66l11 9M391 67l13 3M392 68l13 11M401 72l13 2M405 74l10 2M407 75l11 10M410 77l10 8M417 80l6 7M419 81l10 1M421 82l7 5M423 83l9 3M167 69l10 -6M169 69l12 3M173 68l11 -0M185 66l15 -1M187 65l12 -4M189 65l10 1M191 64l10 -4M193 64l11 -0M195 64l10 -4M197 63l11 2M201 63l9 2M211 61l8 -4M216 60l12 3M220 59l11 3M226 58l10 -4M228 57l11 -0M433 124l-10 12M426 128l-8 9M419 131l-12 10M416 133l-11 12M412 135l-8 7M410 136l-13 2M407 138l-12 4M403 140l-13 2M400 142l-8 2M396 143l-11 2M227 77l14 8M233 78l18 -0M239 79l16 7M241 80l17 -4M245 80l11 -2M255 82l10 5M257 83l11 0M263 84l8 5M267 85l9 6M276 87l11 -2M280 87l11 0M185 99l-12 6M179 99l-13 -4M165 101l-10 3M153 102l-15 6M151 102l-14 -2M143 102l-10 -3M137 103l-12 6M131 103l-10 -2M129 104l-9 5M123 104l-8 -2M401 74l9 7M405 75l14 7M413 77l13 10M415 78l10 1M417 78l13 10M425 80l10 6M436 83l8 3M444 85l10 7M448 85l6 4M450 86l12 1M283 105l-12 -5M280 104l-15 -10M270 102l-18 4M250 97l-11 2M248 97l-13 -8M237 94l-12 -6M235 93l-9 1M231 92l-11 1M215 88l-9 -0M486 91l-15 -9M482 90l-17 -9M474 88l-14 -10M470 87l-11 -7M466 87l-13 -9M462 86l-12 -8M458 85l-11 -4M451 83l-11 -6M445 82l-12 -0M439 80l-9 -5M425 77l-9 1M476 96l12 4M482 96l9 -2M492 97l13 3M494 97l8 -3M496 97l10 4M502 97l7 -3M478 118l14 -2M489 121l8 -2M491 121l10 6M495 122l5 4M465 108l11 5M473 110l13 7M481 111l8 5M490 113l11 0M500 116l8 4M473 114l15 -1M477 115l16 3M490 120l10 9M492 121l12 2M495 123l13 3M499 124l9 1M501 125l9 10M513 131l7 1M519 134l7 8M478 125l13 3M493 135l6 7M497 137l5 7M463 120l9 0M471 123l10 0M419 138l17 2M425 141l7 9M437 147l7 2M408 122l10 12M421 129l12 1M441 141l12 4M394 129l17 2M399 132l7 6M408 137l10 1M416 142l8 9M364 134l1 14M366 138l3 10M376 159l0 10M380 173l5 10M383 182l-1 9M324 135l4 17M325 136l11 13M327 140l9 6M329 143l10 7M332 148l3 11M333 150l12 11M347 174l7 8M349 178l4 5M350 180l2 8M352 185l5 6M280 137l6 11M284 141l14 7M288 146l9 12M290 147l10 4M291 148l8 13M294 151l7 14M300 156l3 7M302 157l10 5M305 160l7 2M308 162l9 3M316 168l6 10M319 170l8 8M219 139l-8 7M215 148l-1 15M215 150l-7 6M212 156l-0 9M200 190l-1 9M200 191l-6 7M205 140l-8 7M185 149l-4 11M179 155l-3 9M178 156l-8 6M168 167l-4 7M169 123l-5 16M168 125l-14 8M149 148l-6 10M133 138l-8 9M128 141l-10 1M121 121l-10 -2M117 121l-13 -5M107 121l-13 6M101 121l-12 -2M87 122l-9 2M96 119l-14 7M70 124l-11 1M69 124l-6 3M93 123l-8 5M86 125l-6 4M82 127l-8 7M112 103l-16 2M107 105l-8 7M103 93l-14 3M99 93l-10 3M97 93l-15 -3M93 93l-10 -2M84 85l-10 -6M74 84l-15 2M66 83l-14 2M64 82l-11 -8M50 79l-9 0M110 58l-6 -8M101 53l-8 -3M98 51l-13 -3M91 47l-10 -4M145 49l-7 -11M142 46l-5 -9M141 45l-9 -4M139 43l-4 -9M135 39l-9 -5M129 34l-9 -3M162 44l-10 -7M151 30l-2 -6M150 28l-5 -4M157 46l-9 -8M149 41l-11 -3M191 54l-7 -8M222 57l-11 -6M205 39l-9 -3M321 43l9 -4M322 42l5 -8M327 38l10 -4M333 33l15 -6M339 28l13 -6M341 27l4 -8M342 25l11 -2M393 41l2 -14M394 39l10 -10M399 29l11 -10M404 18l8 -10M410 55l13 -3M415 51l7 -10M434 37l7 -10M437 34l3 -6M436 62l12 -1M449 57l10 -10M458 53l16 -0M475 48l6 -5M481 47l11 0M484 75l15 2M494 74l9 -2M500 74l7 3M455 77l16 3M459 77l9 5M471 78l14 5M483 79l11 4M493 81l9 -2M496 71l10 -10M517 60l6 -7M481 86l15 2M488 83l10 1M504 79l14 -0M512 77l13 2M508 85l13 5M526 85l9 -3M78 87l-10 -3M50 89l-10 -1M42 90l-10 -4M114 111l-13 -0M110 112l-13 1M108 112l-10 8M123 56l-11 -7M108 52l-8 -3M100 51l-7 -3M321 32l3 -8M322 31l9 -5M329 23l3 -7M344 47l1 -16M347 42l8 -9M110 79l-11 0M108 78l-10 -8M102 76l-15 -2M87 71l-7 -0M85 70l-9 -5M80 68l-9 -1M366 125l4 9M368 126l11 10M369 128l3 15M377 139l10 8M383 147l2 9M386 152l8 5M344 138l5 10M348 142l9 7M353 148l7 3M356 151l10 6M427 126l11 7M311 43l8 -16M317 38l6 -9M320 36l6 -13M328 29l7 -3M372 56l11 -10M383 51l9 -11M390 47l6 -7M399 42l9 -1M401 41l5 -7M402 40l11 -2M149 117l-12 5M147 119l-8 10M130 129l-5 8M118 136l-9 2M108 142l-9 1M106 143l-4 6M431 138l4 7M433 139l7 4M262 43l-8 -10M262 41l-2 -10M260 37l-2 -15M257 30l1 -11M253 17l-6 -9M401 81l13 2M404 81l11 4M416 80l11 3M420 79l12 3M424 79l8 2M428 79l8 3M495 103l12 -3M499 103l10 -2M513 103l10 4M204 40l-14 -5M197 35l-9 -4M105 112l-13 5M87 116l-13 0M62 120l-9 6M155 129l-7 7M150 132l-10 5M129 148l-5 9M257 139l0 16M252 150l-2 9M250 155l-7 8M249 157l-2 12M243 172l-1 12M240 179l-2 9M237 184l-6 9M160 72l-15 -4M136 86l-9 3M114 84l-11 -4M176 39l-6 -9M172 37l-5 -7M333 148l11 8M454 133l9 0M460 134l7 5M407 59l14 -1M413 57l9 -4M423 55l9 2M432 52l9 -5M380 122l15 5M385 126l4 8M387 127l12 5M395 133l5 9M401 138l6 6M112 113l-16 -2M98 114l-12 5M78 114l-9 4M440 105l10 6M458 110l9 1M234 143l-3 12M483 88l12 -1M501 89l12 4M509 90l8 3M523 91l9 -3M410 88l8 6M414 89l12 7M419 91l11 -0M425 93l9 4M435 96l9 -1M444 98l6 3M313 43l8 -11M317 39l12 -5M327 31l12 -5M342 19l7 -2M344 18l5 -7M260 141l-6 10M243 155l-8 4M242 156l-6 8M176 131l-13 4M462 123l8 2M465 125l8 2M154 115l-15 1M150 116l-14 0M146 137l-7 6M131 156l-8 4M338 43l14 -9M342 36l11 -8M359 9l7 -5M91 132l-9 4M297 145l1 14M301 153l1 17M302 154l7 6M303 158l9 9M314 179l4 5M139 67l-9 -9M134 63l-15 -3M108 93l-12 6M101 94l-12 5M91 96l-11 -1M339 134l8 7M344 142l2 13M252 51l-11 -6M249 49l-10 -6M234 36l-10 -6M228 31l-6 -3M259 182l-8 6M256 187l-1 9M217 139l-14 3M193 150l-7 8M444 116l6 10M449 119l14 4M200 145l-9 4M179 161l-7 8M178 162l-7 2M204 61l-10 -6M202 61l-17 -0M183 56l-13 0M181 55l-10 -7M163 50l-7 -0M297 52l11 -8M301 45l8 -9M312 27l1 -12M315 21l8 -6M348 145l8 9M349 147l1 11M350 148l11 7M353 153l2 10M135 104l-10 8M126 108l-8 -0M110 112l-11 -1M316 30l9 -3M320 29l11 -5M334 27l10 1M335 26l6 -3M488 137l8 7M495 141l10 10M517 152l6 8M480 30l9 -10M487 25l8 -7M494 22l5 -6M138 30l-5 -7M136 29l-11 -2M123 20l-7 -1M480 137l-10 10M461 148l-10 4M450 156l-6 7M442 163l-8 4M258 154l-13 2M244 162l-9 1M242 163l-8 5M416 156l8 8M418 157l9 4M428 164l9 4M430 165l6 9M378 42l8 -4M394 37l9 -5M131 43l-12 -8M121 39l-8 1M444 159l7 12M449 163l13 2M452 165l9 3M459 169l9 3M462 171l12 1M475 177l7 7M480 180l8 -0M240 153l7 8M242 154l10 1M249 157l12 1M251 158l8 7M451 27l12 -3M458 23l7 -0M465 20l9 -2M168 157l-7 11M143 175l-11 4M391 41l12 -2M401 38l8 -4M410 34l12 -1M349 158l7 1M88 24l-5 -8M80 17l-7 -2M428 165l-12 4M408 154l17 1M419 158l9 -1M432 160l-12 5M424 161l-9 3M422 161l-13 -2M402 163l-7 -1M320 51l15 -5M346 48l9 3M348 47l8 -5M352 47l8 -4M360 46l7 -2M195 137l-10 7M198 43l10 -7M213 39l10 -6M233 33l8 -5M198 165l-6 9M196 166l-6 3M455 44l-9 -14M448 39l-7 -12M53 152l-8 2M52 153l-10 7M46 155l-8 1" stroke="#3f5f71" stroke-width="1.3" stroke-linecap="round" fill="none"/>
<path d="M262 100l-13 -4M260 100l-18 4M250 101l-14 -4M246 101l-13 -2M238 101l-11 -3M234 101l-15 -1M232 102l-10 4M230 102l-16 -5M222 102l-12 -4M212 103l-11 5M194 104l-8 -1M190 104l-9 -4M383 139l17 -5M389 140l11 3M399 141l13 -4M405 142l11 4M409 142l9 4M415 143l9 -3M504 90l12 11M507 92l12 8M515 95l9 9M517 96l11 2M522 98l13 10M524 99l14 -0M526 99l11 9M531 102l14 -1M535 103l10 2M544 107l8 8M546 108l11 0M287 134l-11 7M280 136l-15 10M278 136l-14 1M274 137l-12 -1M264 139l-11 6M250 143l-9 -0M245 144l-9 7M241 145l-9 7M286 61l18 -3M297 57l16 1M299 56l10 -8M314 50l8 -5M323 47l12 -0M327 45l11 -1M329 45l7 -7M335 43l8 1M338 41l12 0M344 39l8 -5M355 89l-13 -6M347 87l-11 -4M341 86l-12 3M337 86l-16 4M331 85l-12 -8M327 84l-11 -4M325 84l-10 2M319 83l-10 -6M315 82l-13 -6M313 82l-13 4M311 81l-12 -5M307 81l-9 -4M301 80l-8 2M297 79l-12 2M178 59l-15 4M169 64l-9 7M166 66l-9 8M164 67l-12 1M160 69l-14 5M157 70l-13 2M155 71l-8 7M152 73l-10 10M146 76l-10 3M143 78l-9 3M141 79l-8 7M139 80l-9 3M130 85l-7 8M127 87l-5 7M365 122l-16 2M363 122l-12 9M341 131l-10 5M337 132l-9 8M333 133l-8 7M331 134l-11 2M328 135l-12 2M322 137l-7 6M390 69l17 10M392 69l12 -4M394 69l13 6M400 70l16 -5M404 70l14 -2M410 71l13 7M412 71l13 -3M414 71l14 6M422 71l8 4M424 72l11 -4M426 72l13 4M428 72l12 -5M430 72l10 3M434 72l10 5M436 72l8 -2M304 137l12 -1M306 136l16 -9M308 136l14 -0M310 135l12 -7M314 134l10 -8M319 133l18 2M321 132l10 -8M323 132l11 1M331 130l11 1M335 129l10 2M348 126l10 -8M364 122l8 -6M366 121l7 0M472 101l17 -4M474 101l17 6M478 102l10 5M486 103l15 5M494 104l9 3M504 106l12 -1M506 106l10 6M508 107l8 -1M161 78l17 -7M162 77l8 -12M167 73l13 -5M174 69l12 -3M178 67l14 -2M179 66l8 -12M183 64l7 -10M185 63l11 -4M186 62l7 -8M188 61l11 -4M191 59l8 -2M90 85l14 3M92 84l11 -5M96 84l13 -6M100 83l11 -7M104 82l12 -6M118 80l11 1M120 80l12 -6M122 80l12 2M128 79l14 -6M132 78l14 -4M134 78l13 3M136 78l9 -5M150 76l9 2M154 75l12 1M156 75l12 -4M240 107l18 5M243 110l15 5M245 111l8 10M250 114l11 2M251 115l8 11M263 123l11 2M266 125l12 2M276 131l7 3M280 134l8 3M321 102l-18 5M319 102l-14 -2M313 103l-13 6M309 103l-13 6M301 104l-11 4M297 104l-16 4M293 104l-14 6M291 104l-15 -4M285 105l-10 4M279 105l-10 -2M277 106l-10 3M269 106l-10 6M263 107l-9 -1M259 107l-12 -2M257 107l-9 2M255 107l-12 -2M251 108l-8 -2M247 108l-9 -3M248 67l16 3M256 66l15 1M264 64l12 -0M268 64l10 1M272 63l12 0M280 62l10 1M282 61l13 -4M288 60l12 2M290 60l11 -5M248 48l15 10M250 48l12 2M255 51l15 10M259 52l10 10M263 53l10 8M265 54l12 2M272 57l12 -0M280 60l9 2M282 60l7 5M284 61l12 0M418 128l-12 12M415 130l-10 14M408 134l-13 11M406 135l-10 3M405 136l-10 11M401 138l-9 12M399 139l-11 4M398 140l-9 11M391 144l-5 8M382 149l-10 3M380 150l-5 7M377 152l-8 10M375 153l-11 2M372 155l-10 1M370 156l-7 6M368 157l-8 2M176 69l-12 -5M165 63l-11 -3M148 53l-12 -5M143 50l-6 -5M438 109l12 -6M440 108l8 -11M443 105l8 -10M452 100l13 -4M453 99l6 -10M455 97l9 -4M458 95l12 -4M461 93l8 -1M463 92l6 -6M369 86l10 8M373 88l9 10M375 89l16 3M378 91l13 2M382 93l9 2M383 94l8 6M385 95l12 3M390 98l6 8M394 100l6 9M397 102l5 7M399 103l10 4M278 133l-13 -10M274 132l-14 -10M272 132l-16 -1M270 131l-16 -9M266 131l-11 -5M262 130l-14 -7M260 129l-11 2M253 127l-11 0M247 126l-13 -5M237 124l-12 1M235 124l-11 -5M223 121l-7 -5M155 133l-11 -11M145 128l-13 -11M143 127l-10 -3M141 126l-9 -11M136 123l-10 -3M125 117l-12 -2M124 116l-8 -7M122 115l-10 -2M261 80l-17 -2M256 78l-13 -11M254 77l-15 -4M252 76l-12 -13M248 74l-10 -10M241 70l-6 -7M238 69l-8 -8M236 68l-9 -3M234 67l-10 -10M232 66l-11 -3M227 63l-7 -7M206 128l16 -2M208 127l13 -11M215 124l12 -8M219 123l12 -7M221 122l12 0M228 119l11 -0M234 117l7 -6M249 62l16 -3M253 60l17 -4M262 55l13 -13M264 54l16 -3M272 50l7 -8M274 49l15 -3M280 46l11 -11M340 66l14 3M344 66l14 2M348 66l12 2M352 66l12 3M356 66l16 4M358 66l13 -4M360 66l17 3M362 66l12 -5M368 66l14 3M372 66l13 4M378 66l14 -5M400 66l8 2M402 66l9 -2M132 119l9 -10M136 118l13 -10M141 115l12 -1M143 114l10 -10M146 112l13 -11M148 112l13 -4M155 108l13 -2M157 107l11 -10M161 106l8 -6M170 101l11 -3M175 99l10 -8M179 97l6 -6M160 129l-10 8M150 132l-13 0M146 134l-16 -1M144 134l-13 7M143 135l-17 2M139 136l-14 -0M137 137l-13 8M135 137l-14 -2M127 140l-9 0M118 142l-9 4M112 144l-12 -0M312 74l-15 3M310 75l-15 11M307 76l-12 10M302 79l-12 1M287 87l-9 2M284 88l-13 4M192 90l-14 13M189 91l-11 9M187 92l-12 2M183 93l-11 0M172 97l-11 1M162 101l-8 6M151 105l-7 6M149 106l-12 1M140 109l-7 6M138 110l-10 -1M132 112l-8 8M361 55l12 1M374 49l8 -7M377 48l10 -10M385 45l8 -9M396 40l8 -7M399 39l9 -7M403 37l7 -5M409 35l10 -1M411 34l6 -6M406 43l13 -7M411 41l14 -1M413 40l10 -6M419 38l15 0M425 36l9 -6M427 36l10 -1M430 34l12 -2M436 32l8 -4M438 32l11 -2M440 31l10 -6M83 89l-16 -5M77 89l-11 5M69 90l-11 4M61 90l-11 3M51 91l-10 -4M49 91l-11 6M43 91l-12 -4M41 92l-10 5M121 107l13 8M125 108l11 5M129 109l10 6M137 110l13 8M142 112l12 -2M164 116l9 5M178 119l12 -0M180 120l10 5M289 141l18 4M295 140l11 -5M299 139l13 -5M303 139l11 -6M305 139l15 2M307 138l9 -4M309 138l9 2M311 138l13 -7M315 137l9 -4M177 130l-13 -4M173 130l-12 -2M163 132l-12 5M159 132l-12 7M153 133l-10 -1M147 134l-12 4M145 134l-13 -2M143 134l-13 7M141 134l-10 -2M135 135l-8 5M133 135l-12 -3M129 136l-12 -1M127 136l-9 4M125 136l-9 -2M123 137l-7 4M64 76l-16 -0M62 75l-15 -7M54 73l-10 -7M47 71l-13 -8M45 71l-14 1M33 67l-13 2M25 65l-10 1M21 64l-8 -0M157 77l-17 2M153 76l-17 -0M152 76l-10 -7M148 75l-14 -6M146 75l-11 1M140 74l-14 -6M138 73l-16 0M134 73l-13 0M126 71l-12 1M124 71l-13 -5M122 70l-12 1M114 69l-11 0M106 67l-12 2M91 64l-12 3M89 64l-9 -5M61 101l-18 -5M23 102l-9 4M145 124l13 4M151 125l13 -1M153 125l9 6M157 126l12 7M159 126l16 -2M161 126l15 6M163 127l11 -3M168 127l11 7M174 128l8 -1M219 104l-19 -0M218 105l-14 12M216 106l-15 -1M212 107l-13 1M210 108l-10 9M206 109l-7 8M197 113l-13 1M190 116l-10 0M184 118l-8 6M180 120l-7 7M178 120l-10 2M177 121l-6 5M175 122l-9 2M345 101l11 6M347 102l18 -2M349 102l14 7M357 103l10 4M359 103l15 -4M361 103l14 9M363 104l13 -4M365 104l11 6M367 104l15 -2M375 105l14 -2M379 106l10 -1M387 107l9 -2M171 95l11 7M181 98l16 0M185 99l16 -1M187 99l13 6M189 100l10 1M208 105l9 0M210 106l8 7M214 107l7 3M218 108l9 5M223 65l-14 -7M207 61l-13 -8M203 61l-14 -6M199 60l-9 -4M187 57l-11 -9M180 55l-8 -4M178 55l-12 0M176 55l-11 -5M164 52l-6 -5M170 83l10 5M174 84l14 8M186 86l9 4M206 89l10 6M164 108l13 6M166 108l18 -7M174 108l15 -4M182 109l13 -4M193 110l10 -4M328 86l18 6M338 87l14 -3M342 87l11 -2M344 87l11 6M346 87l13 -3M354 88l15 -2M358 88l13 -1M360 88l12 3M362 88l11 -1M364 88l12 5M366 88l14 -3M368 89l8 3M378 89l13 -1M251 115l13 11M253 116l12 2M262 120l11 9M266 122l10 11M268 123l12 2M270 123l10 10M271 124l15 1M284 130l10 8M293 134l10 0M295 135l6 6M301 137l8 2M302 138l7 5M306 117l9 11M308 118l17 7M309 119l10 8M316 123l10 14M323 127l11 11M335 134l11 3M337 135l5 5M379 129l19 -4M381 129l11 -10M382 128l17 -3M384 127l12 -10M388 125l10 -10M395 122l10 -9M397 121l17 -1M402 119l8 -9M406 117l8 -8M408 116l10 -1M413 113l11 -10M428 107l6 -7M435 103l7 -8M439 102l6 -7M498 92l-12 -6M488 91l-16 4M486 91l-13 -7M482 91l-10 -4M480 91l-14 5M470 90l-14 -6M468 90l-10 3M464 90l-14 2M456 90l-10 4M444 89l-10 3M131 129l14 8M135 131l13 13M142 134l10 7M144 134l14 3M146 135l8 8M148 136l12 2M153 138l9 10M155 139l11 0M157 139l10 9M161 141l8 7M170 144l11 1M172 145l9 7M176 147l8 6M181 149l11 0M189 152l11 0M194 154l9 7M191 104l-9 -10M187 102l-14 -11M185 102l-13 -3M182 100l-11 -1M176 97l-11 -7M171 95l-13 -0M165 92l-8 -7M155 87l-7 -8M403 73l11 9M156 71l13 -9M157 71l14 4M159 70l13 -5M161 70l14 2M171 68l12 -6M199 63l11 -7M203 62l9 -4M207 61l10 -4M212 60l12 0M218 59l8 -5M222 58l9 -6M224 58l9 1M435 123l-14 1M432 125l-19 4M430 126l-12 12M428 127l-15 4M421 130l-12 1M414 134l-12 3M409 137l-9 8M405 139l-7 9M398 142l-7 7M229 77l18 -1M235 78l13 6M237 79l13 -2M249 81l13 -1M251 82l11 6M261 84l14 -3M265 84l14 -2M271 86l12 6M273 86l14 -0M274 86l12 6M282 88l9 4M286 89l11 5M288 89l9 0M187 99l-19 -1M183 99l-13 -4M175 100l-17 -5M173 100l-14 6M171 100l-11 -1M163 101l-12 -4M161 101l-12 6M157 101l-11 3M155 101l-11 -2M135 103l-9 -2M127 104l-11 -2M125 104l-10 3M121 104l-12 4M119 104l-12 -2M117 105l-9 2M115 105l-9 -1M111 105l-8 -2M397 73l13 7M399 74l12 -2M421 79l12 9M428 81l12 9M438 83l11 -2M442 84l11 -0M452 86l10 7M278 104l-12 2M276 103l-14 -8M272 102l-13 -8M266 101l-14 1M264 100l-12 -7M256 99l-10 -8M254 98l-16 -0M246 96l-16 3M245 96l-9 -7M241 95l-9 -5M239 94l-12 -0M233 93l-11 -9M227 91l-9 0M223 90l-8 -0M221 90l-9 -6M217 89l-8 -5M210 87l-9 -4M476 89l-13 2M472 88l-18 0M468 87l-17 -1M464 86l-10 1M456 84l-10 1M454 84l-8 -6M449 83l-10 -0M441 81l-14 2M437 80l-11 -1M435 79l-9 -4M431 79l-7 -5M427 78l-10 -6M479 88l10 2M508 83l7 -4M460 94l16 5M464 95l11 4M466 95l12 -4M478 96l14 -1M480 96l11 3M488 97l8 3M500 97l13 3M504 97l10 4M506 97l9 -3M508 97l8 2M514 97l9 -4M518 96l8 -3M488 108l15 1M498 111l11 10M509 115l10 7M468 116l12 6M470 116l9 -0M472 117l11 5M471 109l13 -1M477 110l12 7M487 112l14 -2M502 116l8 -0M468 112l10 6M479 116l12 7M484 118l15 1M497 124l9 9M505 127l10 8M512 131l8 6M515 132l5 5M477 124l11 11M482 127l12 2M483 128l8 11M485 129l12 4M488 132l8 2M492 134l8 3M445 113l11 2M449 114l16 2M462 119l7 5M476 125l6 5M482 128l9 2M436 119l15 -1M456 124l9 0M427 126l10 3M457 153l11 4M421 139l7 7M428 143l6 6M434 146l8 1M435 147l6 5M446 152l7 6M448 152l11 -0M405 120l12 15M426 132l11 11M427 133l14 2M429 134l10 10M438 139l9 4M439 140l6 6M446 144l6 7M387 129l8 16M388 130l14 9M405 145l7 12M411 150l6 10M414 152l4 7M426 160l11 2M381 123l8 8M390 127l13 3M401 133l11 1M413 140l6 8M365 136l7 8M369 143l8 8M371 148l1 16M375 158l10 11M378 167l1 9M381 177l6 9M382 178l-2 9M382 180l5 9M386 196l4 7M368 150l9 7M355 139l12 7M356 140l7 15M359 143l6 9M361 144l10 4M373 155l11 4M376 157l12 4M334 152l1 12M335 153l8 9M336 155l5 13M337 157l7 6M339 160l9 7M341 164l7 5M344 169l3 13M351 183l1 7M316 136l9 4M319 138l16 7M325 143l11 4M346 158l6 6M291 145l9 8M296 156l6 7M278 136l9 6M281 139l10 5M282 140l7 12M287 144l11 7M296 152l11 6M310 163l6 9M311 165l9 2M315 167l7 1M318 169l8 3M276 144l-17 5M273 147l-17 4M270 149l-13 6M264 154l-12 3M262 156l-6 10M259 158l-5 8M230 169l-6 5M245 132l-10 11M227 144l-11 1M224 146l-10 1M240 147l-13 10M235 153l-12 11M233 156l-13 9M229 161l-2 9M222 171l-3 10M221 172l-8 6M211 187l-3 8M218 143l-7 8M217 145l-2 15M216 146l-11 13M214 152l-2 15M211 158l-9 11M209 165l-10 11M205 176l-6 9M204 178l-1 10M203 182l-0 10M201 186l0 7M206 139l-4 14M203 144l-11 12M202 145l-2 12M201 147l-10 7M200 149l-3 10M199 151l-6 8M195 158l-8 9M188 176l-7 9M186 182l-1 11M185 184l-6 9M178 127l-10 -0M177 128l-7 7M140 149l-7 4M134 154l-11 4M130 158l-4 6M197 136l-15 9M195 137l-4 13M191 142l-12 8M186 148l-10 5M183 151l-10 6M171 164l-3 8M166 169l-5 9M164 171l-8 5M163 172l-5 10M158 177l-10 6M157 178l-6 9M161 133l-15 10M154 135l-11 7M148 137l-13 1M140 139l-12 1M131 142l-7 3M127 144l-9 5M125 144l-10 -1M170 122l-8 6M166 126l-5 12M163 131l-9 8M160 134l-12 10M159 136l-5 11M158 137l-10 6M155 140l-10 6M154 142l-6 11M151 145l-4 13M146 151l-3 7M153 129l-14 0M148 132l-9 10M141 135l-10 11M132 139l-13 3M126 141l-9 10M117 119l-10 -3M112 120l-11 6M96 121l-8 4M94 121l-13 -1M115 121l-15 3M111 121l-13 3M91 122l-9 2M110 118l-15 -2M108 118l-17 7M92 120l-11 4M90 120l-13 -1M86 121l-11 -2M84 121l-10 6M82 121l-12 -3M74 123l-13 -0M67 125l-9 0M63 126l-7 0M112 109l-10 11M111 110l-11 1M107 111l-15 0M105 112l-10 11M102 114l-8 7M96 117l-8 1M91 119l-8 11M80 125l-7 8M122 114l-12 1M118 115l-12 -0M116 115l-15 10M108 118l-11 11M107 119l-13 0M105 119l-7 6M99 121l-10 0M89 124l-8 7M114 102l-11 7M95 109l-6 6M88 112l-9 8M84 113l-8 7M81 115l-6 5M107 93l-13 3M89 95l-13 3M78 93l-16 2M74 92l-8 2M83 85l-16 -1M76 83l-12 2M49 76l-9 -0M101 92l-11 -2M86 86l-11 2M80 85l-12 -5M78 85l-14 1M68 83l-14 -5M62 82l-10 -0M56 81l-10 -4M52 80l-8 -3M46 78l-9 1M39 76l-12 -2M108 78l-11 -3M104 77l-9 -5M88 77l-10 -5M98 81l-17 6M96 81l-15 -9M82 79l-9 2M72 77l-8 -5M62 74l-7 1M93 78l-14 -8M85 76l-14 -6M69 75l-8 -3M117 75l-7 -8M114 73l-8 -7M112 72l-12 -0M106 69l-9 -8M101 67l-10 -0M127 69l-10 -10M125 67l-11 -1M124 66l-8 -8M119 63l-10 -1M106 56l-9 -9M103 54l-7 -7M100 52l-6 -7M129 73l-6 -11M108 57l-10 -4M99 50l-11 -3M95 47l-7 -3M136 70l-15 -2M114 62l-9 -2M106 59l-8 -1M103 58l-7 -0M148 54l-9 -5M146 53l-9 -0M134 51l-14 2M158 64l-8 -16M156 63l-9 -8M149 54l-12 -9M143 48l-11 -6M136 41l-3 -9M133 38l-5 -8M128 32l-4 -5M178 53l-6 -14M163 34l-3 -9M160 31l-5 -13M154 23l-10 -6M172 59l-7 -17M171 57l-8 -6M167 51l-12 -9M166 49l-4 -10M161 43l-4 -9M159 39l-2 -9M156 36l-3 -8M155 35l-6 -4M154 33l-5 -9M184 63l-6 -9M182 62l-15 -6M174 57l-7 -8M170 55l-6 -7M169 54l-13 -3M165 51l-13 -4M164 50l-10 -10M155 45l-9 -4M152 43l-7 -1M198 58l-8 -12M189 53l-12 -1M182 49l-14 -4M177 46l-7 -7M173 45l-7 -9M161 39l-6 0M187 35l-4 -8M185 32l-6 -11M182 29l-7 -10M179 26l-6 -10M172 20l-9 -4M169 17l-7 -3M223 58l-9 -13M217 52l-7 -11M215 49l-6 -10M209 44l-6 -11M208 42l-8 -5M202 37l-8 -3M229 53l-9 -10M225 45l-1 -17M223 41l-4 -11M222 39l-11 -9M213 21l-6 -6M261 39l-2 -11M254 29l-6 -14M249 23l-2 -9M244 17l-4 -9M236 8l-4 -8M279 23l2 -10M277 12l1 -6M300 47l14 -10M305 39l3 -10M307 36l5 -11M317 23l4 -10M295 45l10 -14M298 38l12 -10M305 25l2 -10M312 11l4 -13M311 53l10 -7M328 31l7 -5M329 29l2 -7M318 45l17 -5M319 44l10 -12M328 36l8 -11M330 35l15 -5M336 30l11 -4M346 23l7 -3M347 22l5 -7M352 18l7 -2M354 17l4 -7M356 16l7 -2M357 15l4 -7M359 14l8 -2M362 4l-1 -9M363 -1l5 -9M364 41l4 -10M378 21l3 -8M389 48l6 -17M392 43l12 -9M395 38l1 -9M401 23l3 -13M403 19l3 -13M404 16l-0 -10M363 60l10 -8M377 43l4 -14M386 33l6 -4M392 27l10 -8M383 48l10 -6M395 34l4 -9M399 27l2 -10M402 24l3 -8M407 60l13 -8M426 55l12 -9M436 52l11 0M416 50l15 -7M420 48l11 -4M423 45l10 -4M428 42l8 -10M429 41l7 -2M432 38l7 -2M435 35l12 -3M440 32l5 -7M453 50l10 -6M469 25l1 -6M449 53l6 -3M438 62l12 -14M439 61l12 -3M441 60l10 -11M443 59l11 -1M445 58l12 -10M447 57l12 -2M468 50l10 -8M477 48l10 2M479 47l6 -3M485 46l12 1M489 45l8 1M463 68l5 -9M487 51l7 -4M490 49l9 -2M446 75l11 -4M457 67l6 -11M474 53l10 -6M483 45l7 -4M472 77l10 1M482 75l10 -3M492 74l13 2M496 74l8 2M498 74l10 -3M504 74l7 1M506 74l11 -4M508 74l11 3M457 77l13 -4M465 77l13 -5M469 77l16 -2M481 79l13 -1M499 82l9 4M501 82l7 0M474 82l7 -8M478 80l11 -8M483 78l11 -2M497 70l11 -2M503 67l8 -10M508 64l9 -3M510 64l8 -9M515 61l11 -1M522 57l8 -2M479 86l12 -8M483 85l13 -10M500 80l15 -1M508 78l10 0M514 77l11 -5M517 76l12 -5M527 74l7 1M468 88l14 1M472 87l11 3M474 87l16 -7M490 85l14 -4M494 85l13 -6M498 85l9 -2M522 85l9 -3M530 86l9 -1M82 87l-10 -2M74 88l-16 -4M58 89l-13 -2M48 89l-11 6M40 90l-9 4M133 106l-14 -2M127 108l-10 8M122 109l-14 -2M118 110l-11 -2M112 111l-8 5M106 113l-9 0M131 58l-8 -5M129 57l-16 0M125 56l-12 1M115 54l-12 -5M112 53l-10 -8M110 53l-9 1M309 46l12 -7M310 45l9 -14M312 43l12 -7M313 42l4 -10M319 34l7 -6M323 29l3 -10M331 20l3 -9M332 19l7 -3M345 46l7 -7M346 44l1 -15M350 37l1 -12M353 32l10 -8M355 26l1 -8M357 23l3 -9M263 139l-10 14M261 143l-10 9M256 157l-7 11M250 172l-5 8M146 56l-10 -1M139 52l-13 -2M134 50l-10 -8M128 47l-10 -0M119 42l-6 -7M118 41l-10 -3M116 81l-11 -10M114 80l-16 -1M84 70l-12 -1M82 69l-8 -8M74 66l-8 -7M364 121l6 15M365 123l10 8M373 134l5 9M378 141l2 12M379 142l8 5M384 149l9 6M385 150l2 8M388 154l2 7M389 155l6 5M341 135l6 11M345 139l12 6M347 141l7 11M349 144l5 9M355 150l4 10M357 153l4 9M419 115l3 13M420 116l9 7M313 42l11 -3M314 41l7 -11M319 37l12 -4M323 33l7 -12M329 28l5 -9M331 26l10 -3M332 25l6 -9M335 23l5 -9M371 57l16 -2M376 54l9 -9M381 52l8 -3M385 50l9 -1M406 39l8 -3M408 38l6 -7M144 121l-7 7M140 123l-6 9M135 126l-10 2M126 131l-10 8M120 135l-7 8M116 137l-5 5M111 140l-7 1M109 141l-5 5M419 127l7 13M422 129l5 9M434 140l6 9M437 143l5 8M263 45l1 -13M261 39l-5 -8M257 28l-9 -11M255 22l-0 -13M395 82l12 -4M397 82l16 2M399 81l10 -3M408 80l10 2M410 80l11 -6M412 80l8 2M418 79l9 -4M422 79l10 -4M485 103l16 4M487 103l13 -5M503 103l11 -2M252 44l-3 -13M249 39l-8 -5M248 37l-2 -12M247 35l-9 -9M246 34l-3 -11M237 20l-2 -12M235 17l-1 -11M233 13l-2 -6M210 45l-11 -3M206 41l-9 -11M202 39l-6 -7M193 32l-6 -8M111 111l-13 0M97 114l-10 4M93 114l-12 4M89 115l-11 7M153 130l-12 4M147 135l-13 3M145 136l-9 9M142 138l-6 11M140 140l-9 2M137 142l-11 3M131 147l-9 2M128 149l-8 2M124 152l-7 2M123 153l-6 7M258 137l-8 9M256 142l-1 14M254 146l-3 13M253 148l-10 13M252 151l-8 10M247 162l-7 7M246 164l-0 11M244 168l-1 9M244 170l-8 9M242 173l-7 10M241 175l-2 11M239 181l-6 8M163 74l-14 -4M156 69l-14 -2M146 63l-7 -3M130 85l-10 -2M128 85l-13 3M124 85l-10 1M120 85l-9 2M116 85l-11 2M110 84l-8 -5M108 84l-10 4M195 50l-13 -5M191 48l-11 -3M189 47l-8 -7M330 145l10 4M339 153l11 7M350 165l9 4M78 97l-11 5M74 98l-9 5M65 101l-8 -1M63 101l-11 7M55 103l-9 7M51 104l-7 4M76 94l-16 -0M69 95l-11 -3M65 96l-9 -1M57 98l-14 -1M55 98l-11 4M49 99l-9 -2M47 99l-7 5M43 100l-8 4M39 101l-8 5M35 102l-6 4M33 102l-8 -1M31 102l-8 4M426 123l13 7M439 127l11 1M441 128l8 5M445 129l9 7M449 131l8 5M451 131l9 -0M405 59l12 -6M415 57l11 2M417 56l8 -6M425 54l8 -4M434 52l10 1M382 123l9 12M384 125l8 2M390 130l9 4M391 131l6 9M393 132l9 4M399 137l11 4M116 113l-16 -2M114 113l-11 5M102 114l-12 3M100 114l-9 -4M96 114l-9 -3M94 114l-9 4M88 114l-9 -2M433 103l13 11M435 103l11 -1M438 104l15 -2M442 105l9 0M452 108l6 5M454 109l12 0M456 109l9 6M463 111l8 5M241 130l-10 7M238 136l-5 13M237 137l-8 9M228 153l-3 9M224 160l-3 8M223 161l-6 5M222 163l-2 9M221 165l-7 5M219 168l-8 7M218 170l-2 9M485 88l15 5M497 89l11 5M499 89l14 -5M505 89l10 5M507 90l9 -2M513 90l10 3M408 88l11 1M412 89l13 -2M415 90l15 2M417 90l12 6M421 92l12 9M429 94l9 5M437 96l6 5M450 100l9 -1M308 46l15 -5M311 44l10 -5M314 41l14 -5M319 38l9 -10M322 35l7 -13M325 33l6 -7M338 23l5 -9M341 20l6 -8M346 17l10 -4M263 139l-8 13M249 150l-8 4M245 154l-5 8M240 158l-6 3M237 160l-10 3M190 120l-7 14M188 121l-9 4M184 125l-6 10M178 130l-4 8M175 133l-5 8M172 135l-7 11M169 138l-4 6M164 142l-10 3M163 143l-4 5M446 113l11 11M448 114l17 5M460 122l6 9M467 126l6 6M468 127l7 2M470 128l7 7M475 131l7 1M479 133l8 1M480 134l4 5M152 116l-12 7M146 117l-10 -0M144 118l-14 7M142 118l-14 -3M123 123l-8 -2M121 123l-6 5M119 124l-7 0M147 136l-5 10M143 140l-9 7M139 145l-3 8M133 153l-10 6M128 159l-8 6M343 34l4 -13M344 33l10 -11M349 24l3 -11M351 21l2 -12M353 19l10 -7M360 7l2 -7M114 116l-17 3M113 117l-6 9M109 119l-9 12M93 131l-7 9M299 149l1 15M313 176l6 7M313 177l2 11M318 186l5 5M146 71l-8 -8M138 66l-9 -2M136 65l-9 -12M129 60l-9 -9M128 59l-10 -4M121 55l-7 -1M119 53l-5 -7M116 51l-7 -7M114 50l-8 -3M106 93l-15 -1M93 96l-12 6M338 132l3 17M342 139l4 12M343 141l11 11M347 148l9 8M349 151l7 8M350 153l4 14M351 155l8 7M353 158l9 9M356 163l2 9M358 167l3 11M360 170l3 11M362 174l3 9M253 53l-8 -12M247 48l-7 -12M244 45l-6 -13M240 41l-11 -4M235 37l-4 -7M226 29l-6 -7M272 158l-6 7M271 161l-6 7M269 165l-8 7M261 178l-8 6M260 180l-3 9M221 137l-11 1M219 138l-11 9M215 140l-12 9M212 141l-11 9M206 144l-13 1M203 146l-9 1M199 147l-9 2M446 117l14 7M450 121l7 8M455 124l12 3M465 131l12 4M474 138l8 2M388 133l10 15M404 145l9 11M405 146l12 3M412 151l9 2M413 152l5 7M210 138l-12 3M208 139l-6 8M203 143l-11 6M198 146l-7 9M192 151l-8 10M175 164l-6 3M247 148l0 16M245 152l-1 16M242 159l0 13M239 167l-1 13M237 172l-5 5M200 60l-11 -9M179 55l-8 -1M177 54l-9 -8M175 53l-12 0M171 52l-11 0M160 49l-8 1M298 51l2 -16M302 44l1 -9M303 42l12 -9M304 40l1 -11M307 35l11 -10M309 32l6 -7M316 20l2 -7M318 16l2 -11M320 13l1 -8M343 138l12 10M346 142l9 7M351 150l3 11M356 158l6 5M152 99l-14 -1M141 103l-10 0M137 104l-14 -1M131 106l-10 9M124 108l-10 8M122 109l-11 1M118 110l-11 0M114 111l-10 -0M112 112l-6 4M107 114l-9 1M408 35l-11 1M402 34l-12 -7M394 32l-9 -5M390 32l-11 -7M388 31l-10 1M378 29l-9 -4M210 165l-11 9M188 178l-8 2M300 33l13 -8M310 31l14 0M322 29l13 3M324 29l8 -5M326 28l10 0M330 28l9 2M332 27l6 -4M371 146l7 6M390 152l7 6M314 35l13 2M323 33l12 -7M325 32l10 2M333 30l13 2M481 134l9 11M483 135l14 4M499 143l8 10M502 144l6 6M504 145l13 3M510 148l6 8M515 151l12 1M329 37l-7 -5M184 161l-10 -0M474 34l9 -8M475 33l13 -2M479 31l13 -4M485 27l9 -2M496 21l14 -3M505 16l5 -6M506 15l12 -1M519 8l8 -6M110 151l-10 2M108 152l-4 6M103 156l-10 4M140 31l-9 -2M130 25l-10 -3M126 22l-11 -2M477 139l-12 11M473 141l-9 10M471 142l-12 4M470 143l-7 9M466 145l-7 9M465 146l-11 5M460 149l-8 12M458 151l-8 2M445 160l-10 4M84 43l-7 -14M75 35l-7 -9M63 25l-4 -6M261 152l-15 4M260 153l-9 11M256 155l-9 13M249 159l-10 9M246 161l-11 8M235 166l-8 5M231 168l-8 8M227 169l-8 5M447 39l10 -9M449 38l14 -3M403 148l10 12M410 152l10 10M411 153l14 2M413 154l6 7M415 155l13 2M425 161l7 3M431 166l7 2M434 168l10 5M367 46l9 -4M373 44l11 1M376 43l15 2M380 41l15 -2M384 40l12 1M388 39l13 0M407 33l7 -0M409 32l8 -4M160 152l12 -1M176 156l13 -1M177 157l10 9M140 47l-12 -0M138 46l-10 -8M134 45l-11 -8M129 42l-14 -0M127 42l-10 -9M125 41l-11 -1M120 39l-9 -8M114 36l-9 0M112 36l-8 -8M442 158l14 3M450 164l10 11M457 168l7 8M464 172l8 8M484 181l11 1M108 40l-9 -8M237 152l9 6M238 152l17 -0M244 155l7 8M255 159l10 8M257 160l10 1M259 161l6 7M262 163l9 6M266 164l7 5M427 38l9 -6M433 35l13 -3M442 31l10 -9M444 30l8 -1M449 28l6 -7M455 25l11 -2M456 24l9 -6M462 22l7 -0M166 159l-9 4M163 161l-15 4M150 170l-8 3M147 172l-8 2M135 180l-6 7M134 182l-8 2M412 21l-15 -5M406 16l-12 -5M404 15l-7 -12M403 13l-12 -5M398 10l-6 -10M395 7l-7 -9M426 145l-8 4M422 149l-8 13M420 150l-12 6M399 169l-7 2M383 43l14 1M393 40l10 -8M395 40l15 -0M406 36l9 -1M408 35l9 -8M426 27l7 -6M430 25l5 -5M433 23l6 -6M324 149l10 6M326 150l16 3M328 151l8 5M330 151l9 -1M339 155l8 5M352 159l9 1M119 44l-8 -4M118 43l-5 -9M111 38l-4 -7M196 138l15 4M204 144l7 10M227 160l5 5M106 36l-11 -2M103 34l-12 -3M101 33l-12 -11M99 32l-13 -5M98 31l-9 -9M93 27l-10 -3M86 22l-10 -3M83 20l-9 -2M82 19l-3 -6M77 15l-8 -4M441 153l-5 10M438 156l-5 9M437 157l-8 5M436 158l-6 7M434 160l-9 4M433 161l-5 10M431 163l-12 5M424 170l-4 7M423 171l-6 3M368 47l8 -9M370 46l12 -2M373 44l11 -3M377 42l10 -4M382 39l8 -7M389 35l8 -8M394 31l10 -3M397 29l10 -2M399 28l5 -7M400 27l10 -4M410 155l14 8M415 157l13 1M417 157l7 6M427 161l13 -1M430 162l12 1M416 44l-13 -2M407 41l-7 -4M399 39l-6 -3M428 151l12 4M435 157l5 11M439 162l10 6M440 163l4 8M444 158l-12 5M430 160l-10 -2M412 162l-11 4M410 162l-7 -3M408 162l-7 3M406 163l-10 -4M400 163l-9 3M398 163l-9 -2M324 51l14 -7M328 50l14 -7M330 50l10 3M334 49l14 1M342 48l12 1M350 47l7 0M354 47l7 0M189 138l-15 -3M187 138l-11 7M182 139l-13 -0M180 140l-10 5M178 140l-9 -1M174 140l-11 -1M166 141l-13 -1M164 142l-12 4M158 142l-12 -1M144 143l-8 2M422 23l12 -6M428 18l11 -5M80 157l-13 -0M52 164l-9 0M46 164l-10 4M338 48l15 -5M344 47l14 0M348 46l9 0M367 43l10 -0M74 27l-11 -4M71 24l-10 -4M203 136l-13 9M200 138l-7 8M198 139l-11 1M192 141l-10 8M183 146l-10 1M178 148l-5 5M124 49l11 -3M139 39l6 -8M202 42l8 -5M204 42l16 1M210 40l12 -10M215 39l12 1M223 36l13 -0M229 35l8 -7M224 150l-14 3M211 157l-9 7M208 159l-8 7M201 163l-6 7M419 23l11 -1M219 51l-17 2M217 51l-10 -6M136 141l-13 8M458 47l-8 -11M447 38l-12 -4M440 34l-9 -4M439 33l-9 -8M437 32l-10 -4M435 31l-4 -6M78 142l-11 11M68 146l-15 3M64 147l-10 -1M59 150l-7 7M55 151l-6 6M50 154l-10 2" stroke="#54778a" stroke-width="1.3" stroke-linecap="round" fill="none"/>
<path d="M258 100l-15 -6M252 100l-16 5M214 103l-10 -2M208 103l-11 3M206 103l-9 -3M202 103l-10 -3M196 104l-8 3M192 104l-10 4M379 139l12 -2M387 140l13 -3M391 140l15 -2M393 141l12 5M395 141l15 -1M401 141l11 3M403 142l9 -3M417 143l9 4M509 93l12 3M511 93l9 8M528 100l13 2M533 103l11 8M543 106l13 -0M548 109l6 6M286 134l-13 -1M284 135l-16 9M282 135l-12 0M276 137l-14 11M270 138l-10 -0M268 138l-13 6M266 139l-15 -2M262 140l-15 -2M260 140l-11 7M243 144l-10 -2M239 145l-7 -1M282 62l14 -1M284 61l11 -8M288 60l10 -10M292 59l12 -11M293 58l15 -2M301 55l16 -1M305 54l12 1M308 52l12 1M310 52l8 -6M316 50l13 -1M318 49l12 -10M325 46l9 -7M333 43l10 -6M340 41l10 -7M353 88l-16 3M343 87l-11 -4M339 86l-11 -5M317 82l-10 1M309 81l-13 3M305 80l-11 2M303 80l-11 -6M181 57l-13 2M180 58l-12 12M176 60l-11 11M174 61l-15 5M171 63l-18 3M167 65l-12 4M153 72l-15 1M150 74l-12 1M136 82l-13 4M129 86l-8 1M358 124l-11 1M354 126l-17 -0M352 127l-11 11M350 127l-13 1M346 129l-17 1M343 130l-11 -0M335 133l-12 1M326 136l-8 6M318 139l-6 6M398 70l13 6M408 70l14 -2M416 71l12 -5M418 71l11 5M432 72l12 -4M312 135l13 2M315 134l11 1M329 131l11 -6M339 128l11 -0M345 127l8 -5M350 125l13 1M352 125l9 -8M356 124l9 -6M360 123l8 -6M362 122l8 1M470 101l13 7M476 102l15 -3M490 104l12 8M498 105l10 7M500 105l12 -3M154 82l19 -4M155 81l10 -10M169 72l8 -11M171 71l12 -2M173 70l9 -13M181 65l9 -1M190 60l8 -8M193 58l7 -7M98 83l12 2M108 82l11 -5M110 82l11 2M112 81l9 -6M116 81l13 -7M130 79l13 0M138 77l14 1M140 77l11 -5M146 76l13 2M148 76l12 -4M152 75l12 -4M160 74l7 -4M253 116l11 3M256 118l13 2M261 122l7 7M268 126l10 9M270 127l10 2M271 128l9 10M273 129l9 4M275 130l6 6M282 135l6 7M323 102l-14 -3M317 102l-11 5M315 102l-16 -2M311 103l-15 -2M307 103l-14 -3M305 103l-14 4M299 104l-12 -4M287 105l-11 -2M275 106l-11 -4M273 106l-11 3M271 106l-12 -4M267 106l-10 -2M265 107l-12 4M253 108l-8 2M254 66l16 -8M262 65l11 -6M270 63l14 -7M274 63l14 -4M276 62l14 4M286 61l11 -4M296 59l10 0M298 59l8 -4M254 50l13 2M267 55l8 6M269 55l15 0M274 57l13 7M276 58l10 -1M278 59l8 6M427 123l-12 2M425 124l-9 11M422 126l-11 11M417 129l-17 4M410 133l-12 3M396 141l-14 4M393 143l-10 3M389 145l-13 3M387 146l-7 7M386 147l-11 4M374 154l-5 8M181 72l-9 -12M179 71l-16 -4M178 70l-11 -14M174 68l-10 -11M172 67l-16 -2M169 65l-11 -1M167 64l-10 -8M162 61l-12 -4M160 60l-9 -13M159 59l-12 -4M157 58l-7 -10M155 57l-9 -3M153 56l-7 -10M146 52l-8 -10M445 104l15 -4M448 102l10 -3M450 101l8 -12M468 88l10 -4M362 82l11 15M366 84l9 10M389 97l12 3M392 99l13 1M396 101l12 3M282 134l-13 -8M280 134l-12 0M268 131l-13 2M264 130l-17 4M258 129l-9 -6M256 128l-13 2M251 127l-11 -5M249 127l-11 2M245 126l-14 3M239 124l-13 -6M231 123l-8 -6M225 121l-11 -1M219 120l-7 -5M153 132l-16 -3M148 130l-7 -10M146 129l-17 -5M139 125l-14 -4M134 122l-7 -9M132 121l-9 -1M131 120l-9 -8M129 119l-10 -3M120 114l-5 -6M263 81l-11 -9M257 79l-18 -4M250 75l-14 -1M247 73l-13 -3M243 71l-14 -3M240 70l-11 -3M229 64l-9 -2M204 128l11 -8M209 126l18 1M211 126l10 -9M213 125l14 -1M224 121l13 1M226 120l11 -8M230 119l8 -4M251 61l12 -14M255 59l10 -9M258 57l10 -9M265 54l9 -9M269 52l9 -9M276 48l11 -8M278 47l13 -1M285 44l11 -3M292 40l13 -1M294 39l8 -7M296 38l12 -2M299 37l11 -4M303 35l11 -2M305 34l9 -9M308 32l7 -7M310 31l8 -2M312 30l7 -5M342 66l16 -6M346 66l11 -2M366 66l14 -4M370 66l13 -5M374 66l9 -4M376 66l13 4M380 66l13 5M384 66l12 3M392 66l9 2M396 66l11 3M404 66l10 4M152 110l10 -3M154 109l7 -8M163 105l10 -3M168 102l6 -7M165 128l-14 1M164 128l-11 8M162 129l-13 2M154 131l-15 -0M148 133l-10 7M141 135l-11 9M133 138l-11 6M129 139l-7 6M125 140l-8 6M120 142l-9 -1M116 143l-10 -1M114 144l-8 7M305 77l-16 2M303 78l-7 9M300 80l-10 12M294 83l-10 3M291 85l-12 2M289 86l-9 12M286 87l-8 10M275 93l-6 7M185 93l-10 10M181 94l-15 9M177 95l-13 10M176 96l-13 1M174 97l-11 8M170 98l-11 11M168 99l-12 -1M164 100l-15 1M157 103l-15 1M155 104l-9 6M153 104l-15 0M147 107l-9 6M146 107l-10 1M136 111l-6 6M131 113l-10 1M129 113l-7 5M127 114l-12 0M350 59l13 -3M351 59l13 -13M353 58l19 1M355 57l10 -6M357 56l12 -1M359 56l12 -11M364 53l14 0M368 52l11 1M370 51l8 -8M372 50l14 -0M379 47l10 -1M383 46l13 0M388 43l9 -7M390 43l12 -0M394 41l14 -3M398 39l10 -1M401 38l9 0M405 36l8 -0M407 36l6 -5M393 48l17 -2M394 47l14 -8M398 46l14 -10M400 45l12 0M402 44l15 -9M404 44l14 -3M408 42l11 0M428 35l10 -6M75 89l-15 -1M63 90l-13 -4M59 90l-13 -2M57 90l-13 7M47 91l-10 -4M117 106l11 6M119 107l13 -2M123 107l16 -4M133 110l11 4M135 110l12 0M138 111l12 -2M140 111l13 6M150 113l14 -3M152 114l10 5M160 116l10 6M162 116l9 0M166 117l14 -0M168 117l12 6M172 118l9 6M174 119l10 0M176 119l10 5M181 120l9 -2M285 141l12 2M287 141l12 -7M291 140l15 -5M293 140l11 2M297 140l11 1M313 137l11 2M317 137l10 1M319 137l9 -5M321 136l12 1M323 136l9 -3M325 136l9 3M167 131l-13 6M137 135l-9 -1M66 76l-14 -8M58 74l-15 -7M56 74l-14 -1M41 70l-15 2M37 69l-11 1M31 67l-11 -5M29 66l-13 2M27 66l-9 -6M159 78l-13 -9M128 71l-13 -9M116 69l-9 -5M112 68l-9 -5M110 68l-14 3M108 67l-10 -6M101 66l-12 -6M99 65l-11 0M93 64l-8 -6M87 63l-12 1M59 101l-15 4M57 101l-18 -5M55 101l-14 6M53 101l-16 -4M49 101l-11 -2M47 101l-16 8M45 101l-13 -4M41 101l-10 -4M39 101l-15 5M37 101l-15 -2M143 123l15 -0M155 125l14 -0M165 127l10 5M178 129l8 -1M180 129l7 4M223 103l-15 -1M221 104l-11 10M205 110l-14 0M203 111l-11 11M188 117l-11 6M182 119l-11 2M173 122l-8 6M353 102l12 5M355 103l18 -1M371 105l14 -4M373 105l8 4M377 105l10 3M383 106l10 -1M385 106l10 5M391 107l7 -1M170 95l19 2M173 96l18 1M177 97l14 1M179 97l9 7M183 98l12 8M191 101l13 9M193 101l14 -2M195 102l13 8M197 102l14 -1M204 104l9 -1M212 106l10 1M229 66l-13 0M219 64l-15 -8M217 64l-13 -1M215 63l-12 -5M213 63l-12 3M211 62l-14 -9M209 62l-15 -1M201 60l-14 2M197 59l-12 3M195 59l-10 -6M193 58l-12 2M191 58l-8 -6M186 57l-11 2M182 56l-9 1M174 54l-10 2M170 53l-10 2M168 53l-9 -7M155 80l13 4M165 82l11 -3M168 83l12 -1M176 84l14 -3M178 84l10 7M182 85l9 5M190 86l9 5M194 87l10 4M196 87l12 -2M200 88l10 -1M170 108l16 -5M172 108l11 3M180 109l13 6M184 109l14 5M332 86l15 4M334 86l18 -3M336 86l14 5M340 87l14 4M348 87l12 6M350 87l14 -4M352 88l15 4M370 89l9 -3M372 89l11 5M374 89l11 -2M376 89l10 3M380 89l10 3M382 90l11 -1M255 117l13 14M259 118l14 12M261 119l14 1M264 121l14 1M277 127l10 10M279 127l12 3M282 129l15 1M286 131l10 1M288 132l10 10M297 136l12 3M299 137l7 7M306 140l8 6M313 143l9 7M311 120l14 2M325 128l14 1M328 130l9 2M332 132l11 2M333 133l8 10M392 124l13 -12M393 123l14 -4M401 119l12 -0M410 115l12 -9M412 114l10 -3M415 113l12 -1M417 112l9 -8M419 111l9 -1M421 110l10 -10M424 108l9 -10M437 103l9 -0M494 92l-16 -4M490 91l-16 -7M484 91l-12 4M476 91l-12 4M472 90l-14 3M466 90l-12 -4M462 90l-13 -6M460 90l-10 4M458 90l-10 -4M454 89l-8 -3M450 89l-10 -5M129 128l13 0M136 131l17 4M140 133l17 1M149 136l11 11M151 137l12 1M159 140l14 -0M162 142l15 2M168 144l10 10M174 146l9 2M192 153l8 1M196 155l8 0M194 106l-13 -11M183 101l-13 -10M180 99l-11 -8M178 98l-16 -4M173 96l-7 -8M164 91l-8 -2M162 90l-7 -5M160 90l-8 -1M158 89l-7 -5M394 69l15 1M396 70l12 11M398 70l12 2M399 71l9 8M408 76l12 0M412 78l11 4M414 79l10 7M416 79l13 1M154 72l13 1M163 70l16 -7M165 69l13 3M175 67l9 -6M177 67l12 3M179 67l11 -7M181 66l14 4M183 66l13 -8M205 62l10 -0M209 61l10 1M214 60l8 -5M424 129l-13 4M423 129l-10 10M417 132l-16 3M401 141l-5 6M394 144l-6 7M231 78l11 8M243 80l9 6M247 81l12 8M253 82l11 -2M259 83l13 7M269 85l12 -2M278 87l11 5M284 88l10 -2M181 99l-15 7M177 100l-14 7M169 100l-13 5M167 100l-11 -2M159 101l-13 -3M149 102l-8 5M147 102l-10 -2M145 102l-11 3M141 103l-13 3M139 103l-13 -1M133 103l-11 6M113 105l-11 3M393 72l10 7M395 73l12 1M403 75l13 0M407 76l15 -2M409 76l13 7M411 77l12 -0M419 78l15 -2M423 79l14 -2M426 80l14 0M430 81l9 -1M432 82l11 9M434 82l14 -1M440 84l8 5M446 85l9 0M281 105l-18 -1M274 103l-14 2M268 101l-16 -9M262 100l-17 1M260 100l-14 -8M258 99l-12 1M252 98l-11 -7M243 95l-11 -0M229 92l-10 -4M225 91l-12 -5M219 89l-9 0M213 88l-8 -6M212 88l-9 1M484 91l-12 2M480 90l-12 1M478 89l-11 -8M460 85l-15 3M452 83l-13 0M447 82l-12 -8M443 81l-13 -6M433 79l-9 2M429 78l-11 -0M423 77l-7 -4M471 89l16 -0M473 89l12 -5M475 88l17 2M491 86l12 2M510 82l8 2M462 94l14 -5M470 95l12 -3M474 96l13 -3M484 96l14 4M486 96l10 -1M512 97l7 2M516 96l11 4M520 96l11 3M477 104l11 1M481 106l11 0M496 111l13 0M500 112l8 0M503 113l8 1M513 116l6 6M454 112l11 -0M456 113l10 5M460 114l13 9M466 115l10 1M485 120l10 -2M497 122l10 -3M461 108l16 10M467 109l10 -2M479 111l13 -3M483 111l8 -1M489 113l9 4M464 110l11 10M466 111l13 0M469 112l15 1M475 114l14 9M483 117l13 10M486 119l7 8M488 120l13 1M494 122l7 8M503 126l11 3M508 129l7 8M520 135l9 2M463 117l11 11M464 117l17 5M466 118l8 7M468 119l14 3M471 121l11 3M498 139l8 4M501 141l8 4M503 142l4 7M443 112l15 9M450 115l12 9M452 115l15 0M454 116l10 10M469 122l10 9M473 124l8 6M475 124l10 -0M442 120l12 8M448 122l13 1M454 123l10 5M480 132l6 4M436 114l6 13M440 118l12 7M459 133l8 2M467 139l7 9M470 141l5 7M472 142l7 1M474 143l6 6M431 129l17 4M435 132l6 11M437 134l10 5M443 139l9 5M444 140l8 12M446 142l11 5M449 145l10 6M450 146l5 9M467 165l6 3M469 167l4 8M413 134l13 4M414 135l8 7M423 140l14 5M430 144l12 3M439 148l9 7M412 124l9 11M415 126l12 10M417 127l12 1M419 128l6 8M424 131l15 1M431 135l12 3M433 136l10 11M436 138l7 9M450 146l5 6M384 126l7 11M406 146l14 3M409 149l10 4M433 163l8 2M392 128l13 10M397 131l13 2M402 134l11 9M409 138l8 7M414 141l11 2M423 147l7 9M424 148l7 3M370 147l9 11M373 152l1 9M373 154l8 12M374 156l-0 14M376 161l8 11M377 163l2 12M378 165l8 12M379 169l7 11M380 171l1 12M383 184l7 9M385 192l4 7M360 136l9 6M363 141l3 11M364 143l10 7M370 153l8 7M373 161l9 8M375 164l7 10M376 166l1 12M380 177l-0 11M381 179l7 8M367 149l13 7M370 152l8 2M378 158l8 11M381 161l7 8M382 162l7 4M390 168l5 7M326 138l3 15M328 141l3 12M331 147l11 8M340 162l3 12M342 166l1 12M343 167l7 7M345 171l6 5M348 176l2 7M350 182l5 5M314 135l7 14M320 140l8 12M327 144l10 11M330 147l6 7M331 148l9 2M333 149l7 8M336 152l10 10M350 160l4 6M286 134l6 8M291 147l1 9M292 149l5 7M299 163l7 6M300 165l3 9M302 168l1 13M306 173l6 6M285 143l6 9M297 154l6 9M272 148l-8 9M265 153l-4 9M261 157l-14 7M257 159l-8 4M253 163l-5 6M251 164l-7 4M250 165l-7 10M246 168l-6 10M245 169l-8 2M246 144l-5 9M243 149l-8 7M238 156l-8 8M235 161l-5 12M233 164l-3 10M244 133l-13 3M242 134l-7 7M237 138l-11 3M235 139l-7 9M234 140l-10 2M232 141l-10 10M248 138l-13 10M245 141l-11 9M243 144l-9 7M239 148l-3 11M238 150l-10 8M228 163l-13 7M224 167l-5 11M218 177l-3 9M215 181l-2 11M212 186l-8 5M213 154l-8 10M211 159l0 13M210 161l-9 9M209 163l-1 8M208 167l1 10M206 173l-8 8M203 180l-4 7M202 184l-5 9M201 188l-4 5M199 193l-1 10M210 134l-10 9M207 137l-12 11M204 142l-4 14M198 152l-2 13M195 160l-1 10M194 161l-6 7M193 163l-2 13M190 171l-2 13M189 172l-6 8M188 174l-2 10M175 129l-14 2M171 131l-10 -0M155 139l-6 6M154 140l-15 4M142 148l-4 7M136 153l-5 9M131 157l-6 3M193 140l-5 13M190 143l-7 11M189 145l-12 5M187 146l-4 9M182 152l-4 9M181 153l-8 4M175 159l-13 8M161 174l-8 4M160 175l-3 9M163 132l-12 1M156 135l-17 -0M146 138l-10 7M144 138l-12 1M138 140l-10 7M137 141l-8 -0M135 141l-10 7M129 143l-10 -1M165 128l-12 9M156 139l-3 10M147 150l-7 6M143 154l-3 9M142 156l-8 7M140 159l-8 4M137 162l-6 5M152 130l-13 8M139 136l-12 1M137 137l-9 8M124 142l-10 3M122 143l-7 7M117 145l-7 0M115 146l-7 4M134 124l-9 11M129 128l-9 3M119 119l-14 8M88 122l-6 3M86 122l-10 -3M119 121l-12 5M113 121l-13 -4M99 122l-11 3M97 122l-13 -2M95 122l-12 5M89 122l-8 -3M106 118l-13 -4M102 118l-17 -5M100 119l-9 4M72 123l-10 6M65 126l-7 6M116 107l-13 12M114 108l-17 2M103 113l-15 1M98 116l-7 8M95 117l-6 6M93 118l-10 2M89 120l-8 3M86 122l-13 3M84 123l-7 8M114 116l-12 -1M101 120l-11 6M95 122l-11 1M91 124l-11 -1M110 103l-12 6M108 104l-13 -0M103 106l-8 6M99 107l-10 6M93 109l-9 2M90 111l-12 1M86 113l-10 1M82 114l-12 3M101 93l-14 -3M95 93l-12 6M87 94l-13 5M81 94l-8 -2M73 94l-7 -3M85 94l-17 4M80 93l-13 -7M72 92l-12 -4M70 92l-11 4M66 91l-9 3M60 91l-8 -3M54 90l-7 2M82 85l-10 -7M78 84l-10 -8M70 82l-14 -6M60 79l-11 -1M58 79l-9 -5M56 78l-12 -1M55 78l-8 -6M99 92l-15 6M80 94l-8 4M88 86l-12 -6M70 83l-9 0M58 81l-8 -0M48 79l-10 -7M43 77l-10 1M41 76l-9 -5M37 75l-7 -4M100 77l-14 -5M98 77l-11 2M96 77l-8 -3M94 77l-10 4M92 77l-9 -3M86 79l-12 3M84 79l-14 -6M78 78l-9 2M74 77l-10 1M97 78l-14 -7M83 76l-13 1M75 75l-13 3M73 75l-9 -4M67 75l-11 2M63 75l-7 2M99 66l-6 -5M96 64l-6 -5M122 65l-15 -3M120 64l-8 -10M117 62l-12 -12M115 61l-13 -3M113 60l-10 -10M96 50l-6 -6M93 48l-6 -6M89 46l-6 -8M119 65l-5 -7M115 61l-12 -5M113 60l-7 -8M112 59l-13 -4M110 58l-6 -7M102 52l-10 -3M131 68l-7 -6M129 67l-13 0M121 65l-8 -1M119 64l-7 -6M112 61l-8 -7M110 61l-10 1M108 60l-7 -5M142 52l-10 1M140 52l-7 -5M132 50l-7 -5M151 57l-8 -5M138 42l-9 -5M132 36l-8 -5M174 48l-13 -8M168 40l-4 -9M157 26l-10 -8M155 25l-2 -9M150 18l-4 -7M170 56l-3 -9M169 54l-11 -10M160 41l-9 -7M181 61l-12 -11M179 60l-10 -3M175 58l-9 -4M160 48l-8 -8M154 44l-7 -10M150 42l-5 -4M147 40l-8 -7M201 61l-5 -9M193 55l-16 -2M188 52l-7 -7M186 51l-13 -4M172 44l-12 -3M166 41l-6 -5M164 41l-12 0M162 40l-7 -6M204 52l-8 -13M200 48l-15 -9M199 46l-5 -10M192 39l-10 -5M190 38l-5 -11M180 28l-12 -4M162 12l-9 -3M220 55l-5 -9M219 54l-14 -10M212 46l-4 -9M196 31l-8 -4M228 52l-1 -11M217 30l-1 -12M264 44l-10 -6M262 41l-8 -7M260 37l-9 -7M258 36l-4 -11M257 34l-11 -7M255 31l-12 -11M253 28l-9 -6M248 21l-11 -6M245 18l-10 -7M243 15l-9 -8M235 6l-7 -5M282 35l0 -9M280 27l0 -9M278 17l-7 -10M298 51l8 -10M301 46l2 -12M311 31l11 -8M302 30l9 -7M306 23l11 -10M308 20l12 -9M310 15l1 -13M316 4l4 -12M317 2l6 -5M318 1l2 -8M319 -1l6 -4M320 -3l2 -10M321 -4l6 -6M310 55l7 -12M318 46l6 -10M320 43l3 -10M335 19l3 -9M337 16l2 -10M338 14l7 -9M324 40l12 -6M325 39l10 -13M331 34l9 -12M335 31l8 -12M344 24l9 -11M337 57l8 -8M340 52l1 -14M342 48l2 -16M346 41l2 -15M350 32l7 -9M351 30l2 -12M355 21l8 -11M357 15l-0 -11M358 14l6 -7M360 8l2 -11M362 2l4 -6M357 48l14 -10M361 44l4 -11M363 42l8 -6M368 36l12 -9M370 33l9 -7M372 30l11 -8M374 28l3 -10M384 13l8 -7M385 53l8 -7M386 51l5 -12M388 50l8 -7M390 46l7 -7M391 45l5 -15M397 32l11 -9M401 25l5 -7M405 14l6 -9M406 10l8 -9M407 8l1 -9M364 59l5 -10M368 54l11 -7M369 52l6 -16M371 51l11 -8M372 49l7 -12M373 48l10 -5M378 42l10 -6M382 37l5 -11M390 28l5 -12M398 19l6 -9M381 51l11 -7M387 43l3 -14M389 41l12 -8M396 32l6 -4M400 25l7 -5M405 19l9 -6M405 61l11 0M409 60l11 -0M413 59l16 -1M415 58l7 -6M422 56l9 -5M440 51l13 3M442 51l10 -5M450 50l7 -4M453 49l11 -5M455 49l12 1M461 48l8 -5M407 57l10 -1M413 52l12 -6M418 49l7 -11M426 43l9 -3M431 39l6 -8M434 71l11 -5M437 68l14 -9M441 63l5 -12M444 60l3 -9M445 59l12 -9M450 53l11 -6M455 46l11 -7M457 43l11 -8M461 38l4 -10M464 33l9 -6M416 67l8 -9M429 61l10 -2M432 59l10 -2M434 58l12 -8M436 58l11 -1M456 54l13 -7M460 53l9 -5M462 52l15 1M464 51l7 -6M466 51l8 1M471 49l10 -8M491 45l6 -3M454 74l15 -5M458 71l9 -3M464 67l12 -2M473 62l7 -7M478 58l11 -4M481 56l10 -5M484 54l11 -3M448 74l9 -12M452 71l14 -6M455 68l13 -7M475 51l4 -6M480 47l10 -3M484 43l5 -7M474 76l10 -4M476 76l11 1M480 75l17 1M486 75l10 -3M510 74l10 -3M463 77l10 3M467 77l13 3M473 78l14 -5M475 78l8 5M477 78l12 -2M479 78l14 5M485 79l13 -3M489 80l13 -3M495 81l8 4M497 81l10 -1M503 83l7 3M505 83l11 1M507 83l7 5M473 83l13 -4M480 80l13 -4M481 79l9 -7M487 76l10 -2M490 74l11 -1M492 73l9 -8M494 72l12 -2M499 69l9 -7M504 66l8 -2M511 63l10 -3M513 62l5 -6M519 59l8 -1M520 58l6 -8M471 89l8 -6M473 88l11 -2M485 85l13 -1M490 83l12 -10M492 82l11 0M496 81l13 2M502 80l8 -5M519 76l11 2M521 75l9 -5M523 75l10 2M478 86l14 -5M484 86l15 5M496 85l9 3M512 85l7 2M516 85l11 4M524 85l11 6M532 86l7 4M76 87l-9 5M56 89l-11 3M54 89l-9 -1M38 90l-7 -2M32 90l-8 4M30 90l-6 -2M131 107l-13 6M129 107l-10 0M125 108l-15 -2M124 109l-12 9M94 116l-10 -1M135 58l-14 -11M133 58l-14 2M127 57l-8 -5M119 55l-9 -4M117 55l-13 -0M114 54l-9 2M102 51l-10 2M98 50l-10 2M316 39l5 -9M317 37l10 -7M318 36l5 -10M325 28l10 -7M326 26l3 -7M330 22l6 -4M342 53l12 -11M343 49l10 -12M348 40l1 -12M260 146l-8 12M259 148l-1 13M256 156l0 13M255 159l-0 9M254 161l-5 6M252 169l-4 6M251 171l0 10M144 55l-9 -6M141 53l-9 -10M135 51l-11 -1M121 43l-10 -3M116 41l-6 -7M106 78l-13 1M100 76l-9 -7M95 74l-14 1M91 72l-13 -2M89 72l-7 -7M78 67l-6 -4M370 129l8 5M371 131l4 11M372 133l7 6M375 136l9 6M382 146l8 8M340 133l10 6M351 145l10 8M422 119l9 5M426 124l2 11M428 128l3 11M429 129l9 6M430 131l3 13M432 132l7 4M434 136l8 6M435 137l5 12M436 139l9 5M438 140l3 10M439 142l7 6M440 144l2 11M441 145l7 5M442 147l2 6M309 45l16 -7M322 34l11 -3M326 30l5 -9M379 53l9 -12M386 49l5 -7M392 46l11 -2M394 45l8 -9M395 44l9 -2M397 43l7 -7M404 39l8 -9M152 115l-16 5M145 120l-14 2M142 122l-12 1M138 124l-12 3M137 125l-7 7M133 127l-10 9M132 128l-10 2M128 130l-13 3M125 132l-11 4M123 133l-8 7M121 134l-13 3M114 138l-7 2M408 116l7 12M409 117l13 5M412 120l10 6M414 121l9 11M415 123l15 5M417 124l9 11M418 125l12 4M421 128l12 7M427 134l11 6M428 135l6 11M430 136l7 4M260 35l-9 -11M255 24l-6 -6M251 13l-5 -7M250 9l-4 -5M403 81l11 -3M406 81l12 -3M414 80l12 -5M426 79l6 -4M432 78l10 1M434 78l8 -5M436 78l9 1M438 78l7 -3M481 103l13 3M489 103l11 3M493 103l12 3M497 103l9 4M505 103l12 5M509 103l12 3M511 103l11 -2M256 51l-3 -10M254 47l-3 -13M251 42l-11 -8M250 41l-3 -15M243 30l-4 -13M241 27l-4 -11M240 25l-5 -5M239 24l-4 -11M234 15l-8 -5M212 46l-8 -14M209 44l-6 -11M207 42l-13 -6M189 30l-6 -6M109 111l-12 8M99 113l-10 -2M91 115l-9 -0M76 118l-7 -2M159 125l-9 4M156 127l-16 5M126 150l-7 8M248 159l-8 9M248 161l-0 8M245 166l-8 9M240 177l-6 8M238 183l-2 9M151 66l-6 -7M148 64l-4 -6M145 62l-5 -5M143 61l-6 -1M142 86l-12 -4M134 85l-14 -7M126 85l-10 -6M118 85l-10 -5M203 56l-8 -10M201 55l-16 -4M200 54l-6 -9M196 51l-9 -9M186 45l-8 -11M184 44l-11 -3M181 42l-12 -2M171 36l-8 -1M169 35l-6 -8M334 149l6 15M337 152l7 11M340 155l5 10M342 156l11 4M343 158l7 12M347 162l7 5M351 166l5 10M70 99l-10 8M69 100l-14 -2M61 102l-10 -1M59 102l-11 6M49 105l-10 -1M80 93l-13 -0M78 94l-16 6M74 94l-11 6M61 97l-11 -3M59 97l-10 5M45 100l-11 -1M41 101l-12 -1M37 101l-10 0M424 122l14 1M434 126l14 7M443 129l14 1M453 132l7 7M462 135l10 -0M409 58l12 -5M411 58l16 -0M419 56l10 0M421 55l11 -8M427 54l12 2M428 53l7 -5M436 51l7 -4M373 116l10 15M388 128l6 8M396 135l11 4M398 136l6 8M402 140l6 3M120 113l-12 -4M118 113l-16 6M110 113l-11 5M86 114l-9 4M84 114l-9 -4M82 114l-9 3M72 114l-9 -4M437 104l12 9M446 106l14 -2M448 107l11 6M450 107l9 1M460 110l9 7M245 124l-9 10M244 125l-2 14M243 127l-8 8M242 129l-3 13M240 132l-3 15M236 139l-2 12M232 146l-1 9M230 149l-2 11M229 151l-6 6M226 156l-3 12M225 158l-8 5M481 88l14 8M489 88l8 4M491 88l11 -2M493 88l14 5M503 89l8 -3M511 90l12 -1M515 90l10 -2M517 90l8 4M519 91l7 -1M525 91l7 3M527 91l8 -2M406 87l15 9M439 97l11 -1M440 97l6 5M446 99l9 1M448 100l5 5M309 45l6 -10M320 36l14 -6M328 30l7 -12M330 29l8 -4M331 28l7 -10M339 21l8 -5M347 15l4 -8M349 14l6 -3M268 135l-14 6M266 136l-6 8M265 137l-15 6M262 140l-13 5M259 142l-13 4M257 144l-7 9M256 145l-9 4M251 149l-9 11M239 159l-7 8M187 122l-8 11M185 124l-11 3M182 126l-10 5M167 139l-7 2M453 118l6 7M455 119l12 4M457 120l10 9M477 132l5 5M148 117l-9 5M141 119l-12 5M137 120l-8 5M125 122l-9 4M138 147l-11 7M136 150l-9 6M134 151l-2 7M337 45l2 -10M345 31l4 -11M347 28l3 -9M348 26l7 -7M355 16l6 -6M357 12l5 -5M358 11l3 -8M111 118l-16 6M104 123l-9 3M103 124l-8 11M100 126l-10 10M98 127l-11 3M96 129l-7 9M95 130l-11 2M90 133l-6 9M88 134l-10 3M82 139l-6 2M303 156l2 9M304 160l1 11M308 167l4 13M310 170l2 12M312 174l1 13M315 181l2 10M316 183l5 5M143 69l-11 -10M131 61l-13 -2M126 58l-7 -9M102 94l-10 -2M99 95l-11 -1M97 95l-13 5M95 95l-13 -4M79 98l-10 -1M77 98l-10 5M340 135l3 14M341 137l13 9M345 144l8 9M352 156l2 13M359 169l9 8M361 172l7 7M246 46l-9 -2M238 40l-5 -7M231 33l-9 -3M229 32l-4 -9M277 149l-1 13M276 151l-9 7M275 152l-4 16M274 154l-9 8M273 156l-4 14M271 159l-2 10M266 170l-1 10M265 172l-8 8M263 175l-7 6M262 177l-2 12M257 185l-5 6M208 143l-7 6M201 146l-5 5M197 148l-6 6M452 122l13 3M454 123l6 10M457 125l7 7M466 133l6 10M468 134l8 3M470 135l8 9M473 137l5 8M391 135l6 10M392 136l10 4M394 137l10 10M396 139l12 6M402 143l11 5M407 147l6 9M409 148l11 3M410 149l7 9M415 153l9 2M418 155l10 2M420 156l5 6M206 140l-11 5M205 141l-7 10M194 150l-10 2M191 152l-11 4M189 153l-5 6M187 155l-9 3M181 160l-10 3M176 163l-5 9M246 150l-8 9M245 154l-5 8M244 156l1 14M243 158l-7 11M241 163l-2 12M236 174l-1 8M198 60l-12 -1M192 58l-11 -8M188 57l-8 -4M187 57l-10 -1M169 52l-9 -7M167 51l-10 0M165 51l-8 -7M299 49l8 -8M300 47l1 -12M305 39l11 -11M308 33l4 -11M310 30l1 -9M311 28l6 -6M321 11l7 -6M341 135l9 10M342 136l2 10M345 140l4 16M347 143l5 11M156 98l-16 -2M154 98l-10 6M150 99l-10 7M148 100l-12 0M133 105l-9 -1M127 107l-8 5M108 113l-7 4M406 35l-14 -10M404 34l-10 2M400 33l-14 0M398 33l-14 -5M396 33l-10 1M384 30l-12 3M380 30l-9 1M368 28l-6 1M366 28l-9 -5M229 157l-9 7M227 158l-16 -0M221 160l-8 8M198 172l-10 2M191 176l-7 3M190 177l-7 6M302 33l11 0M304 32l12 -7M337 26l10 -0M339 26l5 -3M366 144l16 -2M375 147l9 5M381 149l10 2M388 152l10 -1M400 155l6 1M321 33l13 1M327 32l12 -7M337 30l8 1M341 29l8 2M501 144l10 3M506 146l5 6M508 147l11 0M511 149l12 2M513 150l6 5M519 152l7 2M520 153l5 6M524 155l8 7M360 46l-9 -8M356 44l-11 -6M349 42l-10 -7M347 41l-14 -0M341 40l-10 -9M335 38l-9 -0M324 35l-9 1M170 163l-9 6M472 35l12 -4M489 24l15 -4M491 23l8 -8M498 20l6 -6M501 18l8 -11M510 13l11 -1M515 10l5 -5M127 137l-9 14M122 141l-11 5M119 144l-13 6M118 145l-6 11M113 149l-10 3M111 150l-5 7M107 154l-10 5M154 39l-12 -1M152 38l-7 -9M150 37l-13 -0M148 36l-13 -10M133 27l-8 -2M131 26l-9 -9M128 23l-5 -6M482 136l-16 2M475 140l-9 1M456 152l-6 7M455 153l-8 2M451 155l-11 4M447 159l-4 6M443 161l-4 5M83 42l-10 -3M253 157l-8 9M248 160l-15 1M240 164l-12 2M239 165l-6 6M233 167l-8 -0M429 47l11 -8M433 45l8 -8M442 41l9 -0M451 37l8 -10M454 35l6 -7M461 31l7 -9M466 28l8 -1M468 27l4 -5M473 24l9 -4M404 149l16 3M421 159l9 4M423 160l7 6M426 162l7 11M436 170l6 7M365 46l15 2M374 43l13 -8M382 41l10 -10M390 38l8 -6M395 37l12 -2M397 36l9 -6M399 35l9 -1M179 158l11 -1M183 159l12 -1M191 161l11 -0M193 162l10 7M123 40l-8 -8M447 162l10 10M454 166l11 10M455 167l9 4M461 170l7 7M466 173l12 3M469 175l12 2M123 46l-8 -6M106 39l-9 -0M98 37l-8 0M97 36l-4 -4M95 35l-8 -1M246 156l12 3M264 163l10 1M425 38l13 -1M435 34l12 -8M438 33l7 -5M440 32l11 -1M446 29l6 -7M170 156l-11 2M165 160l-9 11M157 165l-9 4M145 173l-4 7M139 178l-5 8M416 25l-5 -8M413 22l-6 -8M409 18l-9 -6M399 11l-7 -2M393 6l-8 -3M390 3l-7 -3M432 140l-12 5M413 157l-4 9M411 158l-8 3M401 168l-3 7M397 172l-9 4M385 43l12 -7M387 42l14 -1M397 39l12 -9M399 38l12 -1M402 37l12 -0M421 29l10 -1M424 28l9 -0M428 26l7 -2M332 152l8 5M334 153l13 0M345 156l11 1M347 157l8 6M134 55l-9 -10M124 48l-8 -12M115 41l-7 -9M108 36l-5 -8M194 137l10 12M199 140l15 6M217 153l5 7M232 163l9 4M104 35l-8 -11M96 29l-15 -3M94 28l-6 -9M91 26l-6 -11M89 25l-8 -2M446 149l-10 5M443 152l-12 4M440 154l-11 5M430 164l-6 9M425 168l-7 4M372 45l12 -10M375 43l8 -10M379 41l8 -9M384 38l9 -2M387 36l8 -1M395 30l4 -6M412 155l15 3M413 156l9 8M421 159l10 5M423 159l13 2M425 160l10 7M428 161l8 5M432 162l8 7M426 47l-8 -7M420 45l-16 -2M397 38l-11 1M395 38l-6 -5M417 38l-6 -8M415 36l-12 -5M410 33l-7 -7M405 30l-13 -5M403 29l-6 -6M402 28l-9 -1M388 19l-11 -3M386 18l-6 -7M383 16l-7 -6M448 157l-12 6M446 157l-16 -1M442 158l-14 -2M436 159l-14 5M434 160l-10 -0M428 160l-10 5M420 161l-8 2M404 163l-10 2M396 163l-6 2M318 52l13 1M326 50l12 2M344 48l7 -4M358 46l8 1M193 137l-11 -1M191 138l-11 6M185 139l-10 -2M184 139l-10 6M170 141l-14 -1M168 141l-10 3M160 142l-8 4M156 142l-10 5M154 142l-8 -1M150 143l-7 -1M146 143l-7 -1M419 26l9 -4M424 22l5 -10M437 9l10 -4M83 156l-14 1M76 158l-15 1M68 160l-14 -1M66 161l-10 4M64 161l-11 0M62 162l-9 4M44 165l-9 -2M332 49l17 5M342 47l14 -5M346 47l13 -6M352 46l10 1M365 43l8 -5M371 42l9 2M390 156l12 0M392 156l15 7M398 157l14 -1M400 158l11 6M407 159l8 3M83 34l-14 -6M82 33l-7 -10M79 30l-8 -9M47 2l-5 -4M202 137l-14 2M187 144l-8 1M182 147l-6 6M180 147l-11 2M176 149l-9 3M121 52l13 -5M122 50l9 -8M126 48l7 -6M129 46l7 -10M131 45l9 -4M136 42l7 -9M141 38l7 -1M142 37l8 -8M144 36l8 -3M148 34l10 -1M149 33l4 -4M151 32l10 -1M195 148l-7 10M192 151l-4 8M189 154l-5 8M183 159l-3 7M196 44l13 0M212 40l8 0M217 38l10 -6M219 38l9 -0M231 34l10 -1M234 33l8 -1M236 32l5 -5M220 152l-13 3M218 153l-11 10M215 155l-8 9M210 158l-9 3M204 161l-9 9M203 162l-12 3M194 167l-4 6M410 28l8 -9M415 25l10 -1M430 19l12 -0M457 140l12 6M461 141l9 5M463 142l16 -1M465 142l10 7M475 145l12 -0M478 146l10 0M482 147l9 1M486 148l10 -1M494 151l8 0M495 152l7 6M213 51l-9 -2M209 50l-10 -3M191 49l-10 2M189 49l-10 -4M183 49l-7 2M146 139l-15 -1M134 142l-14 -0M132 142l-11 7M130 142l-9 -1M128 143l-9 5M121 145l-9 5M109 147l-10 5M103 149l-6 -1M101 149l-6 4M453 43l-11 -3M450 41l-14 -7M445 37l-6 -10M444 36l-8 -1M442 35l-8 -8M72 145l-14 2M63 148l-9 5M61 149l-13 -0M57 150l-11 1M44 156l-7 5" stroke="#6b8d9f" stroke-width="1.3" stroke-linecap="round" fill="none"/>
<path d="M481 87l10 -4M483 87l13 2M495 85l14 3M497 85l12 -9M500 84l11 -4M504 83l7 -5M512 82l11 -5M516 81l10 -4M468 95l14 6M472 95l9 6M490 97l13 -5M498 97l9 -2M510 97l9 -3M479 105l11 6M483 106l16 8M490 109l10 6M502 113l10 10M519 119l7 1M520 119l10 6M453 112l12 9M458 113l17 1M462 114l9 -1M464 115l9 7M474 117l10 1M476 118l10 5M480 119l13 5M482 119l12 -2M484 119l11 7M487 120l9 7M493 121l11 -2M463 108l16 -4M469 109l16 7M475 110l15 -4M485 112l9 7M492 114l8 6M494 114l9 1M496 115l9 6M498 115l10 -2M504 117l9 5M471 113l11 11M481 117l12 1M506 128l8 1M510 130l13 2M517 133l10 3M470 120l11 11M473 122l9 8M475 123l12 4M480 126l9 9M487 130l5 7M490 133l8 10M495 136l9 4M500 140l5 5M447 113l13 12M456 117l13 1M458 118l12 8M460 118l13 2M465 121l10 6M467 121l12 -0M478 126l7 0M480 127l5 4M434 119l15 9M444 121l16 -1M446 121l13 7M450 122l11 7M452 123l12 -0M465 127l10 7M467 127l9 0M475 130l12 1M476 131l5 4M442 119l9 14M448 124l6 11M451 127l9 11M452 128l10 4M456 131l13 4M460 134l9 10M464 136l6 8M426 125l7 8M432 130l9 10M438 135l8 15M453 149l5 12M456 152l5 12M461 158l5 9M464 161l6 10M411 133l10 14M416 136l11 3M418 137l9 13M426 142l11 1M432 145l8 9M441 149l9 1M443 150l5 5M445 151l11 1M407 121l12 4M410 123l16 6M414 125l16 2M422 130l7 11M434 137l8 1M443 142l9 8M445 143l8 3M448 145l7 1M451 147l6 1M381 123l5 9M390 132l7 15M391 133l12 6M395 137l8 14M397 139l14 4M398 140l4 8M403 144l8 3M413 151l9 2M423 157l8 3M428 161l6 8M383 124l17 2M384 125l10 7M386 125l13 2M388 126l10 9M395 130l8 8M404 135l14 3M406 136l7 7M411 139l8 1M418 143l8 1M419 144l5 8M421 145l9 2M426 149l5 8M427 150l8 2M429 151l6 7M367 139l10 10M368 141l1 18M369 145l0 10M372 150l7 7M381 175l-1 8M384 186l-3 12M384 188l6 11M385 190l-2 10M385 194l-1 8M359 135l7 17M362 140l13 8M371 155l2 9M372 157l7 8M372 159l1 9M378 172l7 9M379 174l2 12M379 176l6 7M347 132l7 10M349 133l11 4M350 135l6 14M358 142l11 4M374 156l7 11M384 163l5 6M385 164l7 3M389 167l8 3M392 169l7 2M330 145l1 12M338 159l4 14M346 173l3 9M353 187l2 10M311 132l10 14M317 137l6 9M323 142l9 12M328 146l10 4M335 150l13 3M338 153l8 3M340 154l6 7M341 155l11 3M343 156l4 6M351 162l7 2M286 132l1 10M289 141l7 7M290 143l3 15M294 152l10 9M305 171l3 10M277 134l6 16M293 150l13 7M299 155l9 2M303 159l5 7M306 161l4 7M313 166l5 6M269 151l-5 8M256 160l-5 7M254 162l-9 4M244 148l-7 15M239 154l-4 15M236 159l-6 6M228 173l-5 6M227 175l-2 11M226 176l-7 8M225 178l-2 11M230 142l-9 3M219 149l-7 8M234 155l-4 10M227 164l-3 10M226 166l-10 6M219 176l-10 7M210 189l-6 5M218 141l-0 14M207 169l-7 9M207 171l1 9M205 174l0 14M208 135l-5 18M197 154l-9 10M196 156l-2 10M192 165l-8 9M191 167l-0 9M190 169l-5 6M187 178l-2 11M186 180l-3 6M185 186l1 8M169 131l-8 6M159 137l-9 7M147 144l-13 6M144 147l-7 3M139 150l-6 11M127 161l-3 7M194 139l-9 5M177 158l-7 10M174 161l-5 9M172 162l-9 6M170 165l-11 7M167 168l-10 7M159 133l-10 0M158 134l-9 5M152 136l-9 -1M150 136l-9 7M142 139l-9 8M133 142l-12 1M164 130l-4 13M161 133l-6 13M152 143l-9 7M150 147l-8 4M145 153l-10 5M141 157l-6 11M138 160l-2 7M136 163l-6 10M150 131l-11 3M146 133l-15 0M144 133l-8 5M143 134l-13 4M135 137l-9 2M130 140l-8 9M121 144l-7 2M119 145l-8 8M113 147l-8 0M135 123l-9 4M128 130l-6 10M120 136l-11 5M119 138l-7 8M117 139l-10 4M116 140l-5 8M113 143l-7 8M111 144l-7 3M110 145l-5 9M115 119l-11 4M113 120l-14 -5M108 120l-10 3M106 120l-11 -2M100 121l-8 4M98 121l-13 -3M84 122l-8 4M109 121l-9 -3M105 121l-13 -2M103 121l-14 5M93 122l-10 -2M104 118l-11 4M98 119l-17 -1M94 119l-13 -4M88 120l-10 4M80 122l-10 5M78 122l-13 -1M76 123l-8 4M118 106l-10 1M109 110l-13 10M100 115l-9 2M87 121l-7 6M82 124l-11 2M79 126l-8 1M77 127l-8 8M120 114l-12 10M112 117l-8 4M110 117l-14 -1M103 120l-13 -1M97 122l-10 6M88 125l-12 1M84 126l-10 -1M80 127l-11 -1M78 128l-8 4M116 102l-16 -0M105 105l-14 1M101 107l-15 1M97 108l-14 3M92 110l-6 6M79 116l-10 3M77 117l-7 8M75 118l-9 1M113 93l-16 -3M111 93l-10 3M109 93l-16 -3M105 93l-14 -3M91 93l-14 4M89 94l-8 -3M85 94l-10 -1M83 94l-9 2M79 94l-9 4M77 94l-7 -1M75 94l-9 2M76 92l-13 -6M68 91l-11 -4M56 90l-10 -3M52 90l-12 -2M46 90l-7 3M68 81l-14 -2M66 81l-11 -6M51 76l-10 -5M92 93l-10 3M86 93l-13 -2M74 94l-10 -3M82 85l-15 4M76 84l-9 -6M72 84l-10 -6M60 82l-12 -6M54 80l-9 0M45 78l-8 -5M116 79l-12 -3M102 77l-10 2M90 77l-13 4M86 77l-12 3M84 77l-11 -3M82 77l-8 2M78 77l-7 2M88 80l-10 -5M80 78l-11 -5M56 73l-8 -5M89 77l-11 -5M77 76l-11 -4M71 75l-8 2M65 75l-10 -5M124 78l-10 -8M123 77l-12 -2M108 70l-13 -2M112 59l-14 -4M108 57l-15 -3M105 55l-10 -2M94 49l-9 -3M123 68l-6 -11M116 63l-6 -7M107 55l-5 -9M100 51l-5 -5M146 73l-12 -10M144 73l-14 -1M142 72l-13 -9M135 69l-9 -8M125 66l-11 0M123 65l-12 -8M104 59l-6 -4M156 56l-9 -5M150 54l-10 1M138 52l-12 -1M136 51l-9 -6M126 49l-11 2M121 48l-6 -2M160 68l-3 -12M159 66l-9 -5M155 61l-3 -10M154 60l-9 -5M153 58l-6 -11M150 55l-4 -8M147 52l-5 -11M146 51l-11 -9M131 35l-4 -6M175 50l-4 -17M173 46l-2 -9M170 43l-5 -10M167 38l-7 -7M165 37l-6 -13M162 32l-8 -4M158 28l-4 -10M153 21l-4 -9M151 20l-8 -4M175 62l-4 -11M173 61l-14 -12M168 52l-2 -12M164 48l-7 -6M163 46l-2 -10M157 38l-6 -4M153 31l-5 -5M177 59l-8 -12M172 56l-15 -6M167 52l-6 -9M162 49l-8 -3M159 47l-12 -3M199 60l-11 -4M196 57l-10 -4M194 56l-6 -9M184 50l-7 -7M181 48l-8 -8M179 47l-8 -1M175 45l-7 -1M170 43l-9 -6M168 42l-7 -1M203 51l-12 -9M196 43l-5 -12M194 42l-9 -4M183 30l-11 -4M177 25l-12 -7M174 22l-7 -4M167 16l-7 -8M166 14l-11 -4M216 51l-13 -6M213 48l-10 -7M210 45l-14 -7M206 41l-4 -8M203 38l-4 -11M200 35l-4 -7M199 34l-11 -5M197 33l-5 -7M194 30l-5 -8M230 55l-2 -17M219 34l-2 -12M218 32l-9 -9M214 23l-2 -10M212 20l-1 -11M211 18l-6 -6M209 14l-9 -7M256 33l-3 -14M251 26l-6 -12M240 12l-7 -4M237 9l-8 -5M287 54l2 -19M284 45l-9 -11M283 41l-7 -9M281 31l1 -14M278 19l0 -12M278 15l1 -8M277 14l-3 -8M303 42l1 -10M304 41l10 -9M306 37l10 -10M312 29l4 -11M296 43l3 -16M297 41l13 -12M299 36l2 -17M300 34l13 -11M307 22l1 -11M309 16l9 -12M315 49l5 -14M316 47l12 -6M323 38l11 -6M327 33l2 -11M330 28l7 -5M331 26l3 -12M339 12l2 -11M340 10l4 -5M338 29l7 -7M349 21l13 -3M351 20l4 -7M341 50l7 -7M345 43l8 -9M354 25l9 -9M357 17l5 -7M363 0l1 -11M359 47l6 -18M375 26l11 -7M377 23l8 -8M379 20l9 -6M381 16l8 -9M396 36l9 -7M396 34l1 -13M398 30l2 -15M400 27l3 -11M402 21l9 -10M406 12l1 -10M408 6l6 -7M367 56l3 -10M376 45l9 -6M380 40l4 -11M384 36l9 -6M388 31l2 -8M389 30l7 -4M393 25l3 -8M394 24l6 -4M396 22l5 -11M401 16l3 -7M402 15l8 -4M378 54l13 -8M382 49l7 -12M390 40l2 -10M391 38l11 -6M397 30l5 -12M404 20l4 -8M411 59l12 -11M416 57l15 0M418 57l10 -8M424 55l9 1M430 54l13 -6M434 53l13 -7M438 52l7 -5M452 49l8 1M408 56l7 -7M412 54l11 -13M421 47l9 -10M425 44l4 -7M439 33l9 -5M442 30l7 -2M436 69l7 -16M446 57l6 -11M449 54l6 -12M466 30l9 -7M468 26l5 -5M471 21l1 -6M419 65l13 -10M421 64l10 -3M427 61l8 -8M445 54l9 -6M455 51l9 1M450 56l9 -2M452 55l10 -6M454 55l16 -1M469 50l13 -1M473 49l7 -0M483 47l9 -4M487 46l7 -4M449 76l12 -14M452 75l7 -8M456 73l7 -7M471 63l10 -4M474 61l12 -4M479 57l5 -7M486 52l5 -7M492 47l4 -8M444 77l10 -12M454 69l7 -11M460 64l6 -8M465 60l10 -2M468 58l7 -4M471 55l7 -2M477 50l8 -3M478 49l5 -8M468 77l17 -0M470 77l10 -4M478 76l9 -4M488 75l13 3M490 74l8 -4M502 74l12 -3M512 74l10 4M451 77l16 7M453 77l13 -5M461 77l10 -1M487 80l9 3M491 80l8 3M476 81l13 -2M485 77l12 -9M489 75l10 -10M501 68l13 -1M506 65l7 -6M469 90l16 -2M475 88l10 -7M477 87l14 1M486 84l13 -7M494 82l12 -7M498 81l11 -9M506 79l12 -8M510 78l11 -6M516 77l10 1M525 75l6 -3M470 87l10 -4M476 87l14 4M480 86l12 2M482 86l16 -7M486 86l9 -4M488 85l11 4M492 85l11 3M500 85l13 4M502 85l14 -6M504 85l14 5M506 85l9 -1M510 85l10 -2M514 85l11 -2M518 85l11 -3M520 85l11 5M528 85l11 4M80 87l-14 4M72 88l-9 3M70 88l-14 -5M68 88l-12 4M66 88l-14 -2M64 88l-10 5M62 88l-11 -3M60 88l-11 6M52 89l-13 4M46 89l-13 -2M44 90l-9 3M36 90l-7 2M34 90l-7 -3M120 109l-9 4M116 110l-8 5M104 113l-9 5M102 114l-10 -2M100 114l-7 5M98 115l-9 -1M96 115l-5 4M92 116l-5 4M121 55l-11 1M106 52l-10 -0M104 51l-6 -5M314 40l8 -7M327 25l9 -4M334 17l4 -7M343 51l3 -11M349 39l7 -5M351 35l5 -7M352 33l1 -8M354 30l2 -8M354 28l6 -7M356 24l5 -4M358 21l4 -4M262 141l-2 15M261 144l-1 17M259 150l-9 10M258 152l-2 15M257 154l-6 7M254 163l-0 7M253 165l-6 9M252 167l-1 7M148 57l-10 -13M143 54l-11 -3M137 52l-6 -6M132 49l-12 -1M130 48l-11 -8M127 46l-8 -8M125 45l-12 -2M123 44l-6 -8M112 80l-8 -8M104 77l-10 -9M99 75l-13 -2M97 74l-7 -6M93 73l-6 -6M76 67l-10 1M376 137l5 9M381 144l4 12M339 132l6 11M343 136l13 6M352 147l4 8M359 154l8 4M360 156l3 6M421 118l4 12M423 121l2 10M425 123l12 7M433 134l3 10M316 39l11 -3M325 32l12 -5M334 24l9 -3M374 55l16 -4M378 53l13 -5M388 48l9 -3M409 37l8 -2M150 116l-8 7M113 139l-8 7M411 119l4 10M424 131l10 5M425 132l7 11M436 142l10 4M439 144l7 2M259 33l0 -10M258 32l-8 -8M256 26l-1 -14M254 20l-6 -11M253 18l-2 -10M252 15l-1 -8M251 11l-0 -7M393 82l15 2M430 78l9 -3M440 77l9 2M442 77l8 -3M483 103l12 -3M491 103l14 -2M501 103l8 2M507 103l12 -4M515 103l7 -2M255 49l-9 -10M253 46l-12 -7M244 32l-9 -8M242 29l-8 -9M238 22l-6 -4M236 19l-9 -6M201 38l-12 -4M199 37l-8 -11M196 34l-5 -8M194 33l-10 -2M191 31l-9 -3M188 28l-6 -2M107 112l-15 -0M103 112l-10 -1M101 113l-9 6M95 114l-12 -3M85 116l-13 5M83 116l-14 -1M81 117l-8 5M80 117l-11 -1M78 117l-11 5M74 118l-8 5M72 119l-10 -1M70 119l-8 3M68 119l-9 0M66 120l-8 4M64 120l-8 0M158 126l-10 11M151 131l-6 7M148 134l-10 12M143 137l-8 3M139 141l-6 8M136 143l-7 10M134 144l-8 4M132 146l-5 8M256 141l-7 9M255 144l-8 10M251 153l-2 12M168 77l-8 -9M167 76l-13 -4M165 75l-11 -11M161 73l-8 -11M158 71l-7 -8M155 68l-7 -9M153 67l-8 -1M150 65l-9 -2M140 86l-17 2M138 86l-10 -5M132 85l-13 5M122 85l-10 -4M112 84l-7 3M106 84l-9 -2M198 53l-15 -3M193 49l-7 -7M188 46l-11 -4M183 43l-8 -8M179 41l-7 -10M178 40l-12 -3M174 38l-11 -3M329 144l7 11M332 146l6 11M336 151l8 5M344 159l10 6M346 161l4 8M349 163l3 8M353 168l7 5M354 169l4 10M356 170l7 4M80 96l-16 -0M76 97l-13 2M72 98l-14 -1M67 100l-10 6M57 103l-9 -1M53 104l-11 1M72 95l-16 -0M71 95l-13 5M67 96l-11 8M63 97l-12 7M53 98l-13 -3M51 99l-11 8M422 122l14 10M428 124l11 -1M430 124l12 8M432 125l11 -1M435 126l12 1M437 127l11 6M447 130l10 1M456 133l5 5M458 134l7 0M403 60l17 1M430 53l8 0M374 117l13 7M376 119l10 14M377 120l13 4M379 121l8 10M108 113l-13 -3M106 113l-14 3M104 113l-14 -6M92 114l-11 -4M90 114l-9 2M80 114l-10 -4M76 114l-10 -4M74 114l-8 3M70 114l-8 2M444 106l10 7M462 111l7 1M239 134l-7 6M235 141l-8 6M233 144l-9 8M231 148l-7 7M227 155l-8 6M220 167l-3 8M487 88l13 -4M495 89l10 -3M521 91l8 3M423 92l10 -0M427 93l9 -1M431 94l13 -1M433 95l7 4M442 98l12 1M316 40l7 -11M324 34l9 -4M333 26l11 -4M335 25l7 -10M336 24l9 -4M254 146l-7 9M253 148l-10 3M248 151l-9 10M246 153l-8 4M236 162l-4 5M195 116l-13 7M193 117l-6 9M192 119l-12 5M181 128l-5 9M179 129l-10 4M173 134l-7 4M170 137l-8 3M166 141l-6 9M450 115l11 10M451 117l11 5M458 121l10 4M463 124l6 7M472 129l10 4M474 130l6 8M139 119l-8 0M135 120l-8 -1M133 121l-11 7M131 121l-12 0M129 121l-11 5M127 122l-9 -2M153 128l-14 8M152 130l-5 15M151 131l-11 10M149 133l-4 14M148 134l-8 5M144 139l-4 9M142 142l-3 13M141 144l-8 4M137 148l-2 9M132 154l-4 10M129 158l-4 7M127 161l-3 6M336 46l10 -12M339 41l4 -12M340 40l10 -11M341 38l2 -9M346 29l11 -8M350 22l9 -9M354 17l1 -7M356 14l4 -11M108 120l-14 7M106 122l-8 8M101 125l-12 6M87 136l-6 9M85 137l-8 2M83 138l-4 6M298 147l10 13M300 151l6 8M305 161l7 9M306 163l3 13M307 165l8 7M309 169l5 7M311 172l8 9M317 185l1 7M144 70l-12 -5M141 68l-15 -5M133 62l-7 -10M124 57l-11 -5M123 56l-7 -9M118 52l-10 -5M110 93l-17 -2M104 94l-12 4M89 96l-9 5M87 97l-8 -0M85 97l-10 5M83 97l-10 -3M81 98l-7 4M75 99l-10 -0M73 99l-8 5M71 99l-9 -2M346 146l1 10M348 149l4 12M354 160l2 13M355 162l8 6M357 165l10 7M250 50l-10 -12M243 44l-10 -5M241 42l-5 -8M237 38l-10 -6M232 35l-5 -10M278 147l-7 8M270 163l-3 12M268 166l-1 12M267 168l-7 8M264 173l-2 11M258 184l-2 10M213 140l-11 1M210 142l-11 1M204 145l-8 9M195 149l-7 2M192 151l-7 1M447 118l9 12M458 127l8 4M460 128l7 11M462 129l8 3M463 130l6 8M471 136l9 5M389 134l15 5M397 140l6 7M399 141l12 3M400 142l6 6M417 154l7 7M213 135l-15 6M211 137l-7 9M202 144l-6 8M197 147l-13 4M195 149l-10 10M186 156l-6 10M184 157l-11 3M183 158l-5 9M248 147l-6 9M242 161l-6 8M240 165l-6 7M239 169l-8 9M238 171l-3 12M236 176l-4 5M235 178l-1 10M234 180l-6 7M196 59l-11 -9M194 59l-13 -1M190 58l-12 1M185 56l-8 -7M173 53l-8 -7M161 50l-7 -6M306 37l5 -13M313 25l7 -6M314 23l2 -10M317 18l6 -6M319 15l6 -4M340 133l2 12M352 152l9 8M354 155l10 6M355 157l2 9M358 160l2 9M146 101l-8 5M145 101l-15 -1M143 102l-11 10M139 103l-9 6M129 106l-10 -1M120 109l-7 4M116 111l-6 4M105 114l-6 5M410 36l-10 -8M392 32l-12 2M386 31l-10 -5M382 30l-9 -4M376 29l-11 2M374 29l-7 -3M372 28l-7 2M370 28l-7 -4M230 156l-15 1M225 158l-10 8M223 159l-15 -0M219 161l-11 3M212 164l-10 1M207 167l-6 7M203 169l-7 7M193 175l-7 6M298 33l16 1M306 32l11 0M308 32l8 -5M312 31l12 -5M314 31l10 2M318 30l12 3M328 28l6 -4M377 148l14 1M379 148l12 7M385 150l9 -1M386 151l10 6M394 153l8 7M404 156l9 1M317 34l15 1M339 29l8 -3M485 135l12 9M486 136l14 2M490 138l12 3M492 139l10 11M494 140l14 3M497 142l10 1M522 154l9 2M351 43l-10 -1M343 40l-14 1M328 36l-11 1M320 34l-10 2M194 159l-13 9M188 160l-14 -1M180 162l-13 -2M178 162l-7 4M174 163l-11 3M172 163l-12 -2M168 163l-9 -1M166 164l-8 4M162 164l-10 5M156 164l-9 -1M477 32l11 -13M482 29l11 -3M484 28l8 -10M492 22l14 -4M499 19l10 -3M503 17l8 -1M508 14l6 -6M512 12l6 -7M514 11l10 -2M517 9l9 -2M129 136l-15 5M125 139l-12 7M116 146l-11 3M105 155l-4 8M156 39l-11 -11M147 35l-15 -4M145 34l-9 -7M143 33l-9 -3M141 32l-5 -7M135 28l-6 -9M125 21l-4 -5M478 138l-11 1M468 144l-10 4M463 147l-8 11M453 154l-6 6M448 158l-6 3M89 47l-13 -8M78 38l-7 -10M77 36l-11 -3M67 29l-9 -5M265 150l-10 3M263 151l-9 9M255 156l-14 3M251 158l-14 1M237 165l-7 1M229 168l-10 0M226 170l-9 2M435 44l16 -0M438 43l14 -1M465 29l7 -7M475 22l4 -5M406 150l10 11M408 151l14 5M420 158l8 12M433 167l5 7M437 171l8 3M361 48l12 1M363 47l11 -6M369 45l14 1M371 44l11 -6M386 40l7 -6M392 38l8 0M401 35l9 -6M403 34l7 0M405 34l8 -6M162 153l9 6M174 156l11 7M189 161l9 6M195 163l7 1M142 48l-12 -13M136 45l-16 -4M133 44l-9 0M118 38l-8 -1M116 37l-10 -7M110 35l-7 0M108 34l-7 -6M440 157l8 11M445 160l14 5M468 174l7 9M471 176l7 6M473 176l12 3M477 178l7 2M478 179l5 4M482 181l5 4M486 182l4 4M124 47l-13 -2M119 45l-9 -8M113 42l-11 -0M112 42l-11 -9M104 39l-6 -5M102 38l-12 -1M248 156l10 8M253 159l10 -0M260 162l11 2M268 165l6 0M422 40l18 -2M424 39l8 -9M429 37l10 -2M431 36l12 -10M436 34l11 -3M447 29l11 -1M453 26l8 -6M460 23l5 -6M464 21l7 -5M467 19l5 -4M161 162l-11 11M160 163l-14 7M158 164l-7 7M155 166l-8 12M153 168l-8 3M152 169l-7 9M148 171l-4 7M142 176l-5 7M140 177l-8 3M137 179l-8 2M421 29l-11 -4M415 23l-11 -3M407 17l-4 -8M396 8l-8 -2M392 4l-6 -9M431 141l-6 11M428 144l-8 15M417 153l-8 3M405 164l-9 5M404 165l-6 9M402 166l-8 3M398 170l-5 7M389 42l10 -9M404 36l12 -8M412 33l6 -6M414 33l8 -1M415 32l9 -9M417 31l10 -1M419 30l8 -6M423 28l7 -7M432 24l9 -1M320 148l12 7M322 149l16 -1M335 153l7 5M337 154l11 1M341 155l11 2M343 156l6 6M351 158l8 7M131 53l-6 -10M127 50l-8 -9M126 49l-11 -5M116 42l-12 -3M107 34l-7 -3M197 139l8 11M201 141l8 11M202 143l13 5M206 145l12 3M212 149l10 3M215 152l8 2M229 161l9 2M233 164l7 8M108 37l-9 -10M85 21l-5 -8M79 16l-4 -5M444 150l-6 8M427 167l-5 11M366 48l18 -1M380 40l13 -2M386 37l6 -7M391 34l9 -2M392 33l5 -5M402 25l3 -5M406 153l15 9M434 163l9 1M436 164l9 6M422 46l-11 -9M418 45l-12 -9M411 42l-13 -7M401 39l-11 1M393 37l-8 0M429 152l7 14M443 166l3 10M413 35l-8 -14M412 34l-14 -2M400 26l-5 -7M395 23l-10 -2M393 22l-6 -7M390 20l-8 -7M385 17l-10 -1M450 157l-11 -1M440 159l-10 5M438 159l-10 -1M426 161l-9 -0M418 162l-12 -3M416 162l-11 5M414 162l-11 -3M322 51l11 1M332 50l13 -7M336 49l11 -5M338 49l12 2M340 48l9 -3M356 47l10 -5M197 137l-13 -2M176 140l-11 6M172 141l-7 4M162 142l-9 -1M152 143l-7 2M148 143l-7 2M413 31l12 -5M415 30l8 -10M416 29l10 -5M425 21l7 -5M431 15l7 -4M434 12l8 -4M438 8l3 -8M78 158l-13 10M60 162l-14 -3M50 164l-9 4M38 166l-9 6M334 48l13 -7M340 48l15 2M350 46l10 -5M354 45l9 -4M357 45l12 -4M359 44l9 2M361 44l8 -4M386 155l12 1M405 159l9 0M413 160l11 -3M415 161l6 3M77 29l-15 -4M72 25l-8 -12M68 22l-8 -4M65 19l-11 -6M62 16l-8 -5M59 14l-9 -5M56 11l-6 -4M54 9l-5 -10M53 8l-9 -4M50 5l-9 -4M49 4l-4 -9M205 136l-11 1M196 140l-8 6M194 140l-14 3M191 142l-11 2M189 143l-10 8M185 145l-9 9M127 47l12 -5M146 35l7 -7M201 143l-6 14M198 146l-6 9M196 147l-13 6M190 152l-10 3M185 158l-7 3M182 161l-7 4M200 43l11 2M206 41l11 -6M208 41l9 1M221 37l10 -8M225 36l8 -8M227 35l7 -0M222 151l-8 7M217 154l-12 4M213 156l-10 1M206 160l-8 1M199 164l-8 3M408 28l14 -4M411 27l14 -2M424 21l9 -9M451 139l13 -2M453 139l11 5M459 141l11 -2M469 143l11 8M477 145l11 5M480 146l7 7M484 148l6 4M490 150l7 1M492 150l6 4M499 153l9 5M224 52l-14 -8M223 52l-13 1M221 52l-12 -7M211 51l-13 3M207 50l-15 2M203 50l-8 1M199 50l-10 1M195 49l-8 2M193 49l-9 -2M187 49l-10 2M181 49l-8 -3M142 140l-11 -1M140 140l-12 7M126 143l-10 -2M125 144l-8 6M119 145l-11 -1M113 146l-9 4M111 147l-11 -2M107 148l-8 -1M457 45l-12 -3M452 42l-9 -11M434 29l-7 -2M432 28l-6 -8M79 142l-18 2M76 143l-13 1M74 144l-8 8M70 145l-10 6M66 147l-9 6M48 154l-9 7" stroke="#84a5b5" stroke-width="1.3" stroke-linecap="round" fill="none"/>
<path d="M477 88l10 -7M485 87l14 -5M487 86l11 2M489 86l9 -6M493 85l13 -8M502 84l14 1M506 83l9 1M514 81l7 2M520 80l8 -3M522 80l9 -0M475 104l12 8M486 107l11 6M492 109l15 1M494 110l6 6M505 114l12 6M507 114l11 -1M511 116l12 2M515 117l9 1M438 119l11 6M440 120l12 0M458 124l7 5M459 125l8 1M463 126l14 1M469 128l11 7M471 129l8 -0M473 129l5 4M478 132l11 1M437 115l13 9M443 120l14 8M445 122l7 10M446 123l14 9M449 126l12 5M454 129l6 9M457 132l7 12M462 135l11 2M469 140l8 2M434 131l16 8M440 136l10 4M451 147l10 7M458 155l5 11M460 156l9 7M462 159l10 7M466 164l4 9M383 125l11 5M400 141l12 6M401 142l7 8M418 154l5 6M419 155l7 2M421 156l6 8M361 138l5 12M369 152l3 9M353 138l5 9M365 148l7 11M368 151l6 8M345 157l7 1M348 159l8 3M287 136l-0 17M288 138l6 10M295 154l3 11M297 158l3 14M298 159l10 10M301 166l9 6M303 170l6 6M307 175l4 11M275 146l-9 11M267 152l-9 4M248 166l-7 2M243 170l-4 6M248 143l-11 6M245 146l-14 10M241 151l-3 12M240 152l-12 9M237 157l-3 15M234 162l-8 8M231 168l-1 10M229 171l-3 8M250 128l-15 6M248 129l-8 16M247 130l-9 4M240 135l-15 3M239 136l-6 11M229 143l-5 7M225 145l-7 7M222 147l-5 6M220 148l-8 1M217 150l-7 2M247 139l-4 13M223 169l-9 10M220 174l-4 13M214 182l-6 5M213 184l-4 9M209 191l-1 6M173 130l-14 9M168 132l-15 2M166 133l-9 9M160 136l-15 5M157 138l-14 5M150 142l-10 2M149 143l-7 7M145 146l-7 11M137 152l-11 3M133 155l-5 7M125 162l-9 6M131 127l-5 8M126 131l-10 5M104 121l-9 4M102 121l-10 -3M90 122l-10 -4M91 96l-15 -9M87 95l-16 -7M83 94l-9 -4M82 94l-11 0M62 91l-9 1M58 90l-8 2M50 90l-10 2M80 84l-14 -1M74 83l-11 -9M64 80l-15 -1M53 77l-10 0M47 75l-7 -4M45 75l-8 -0M105 91l-17 -1M103 91l-10 4M98 92l-11 -1M96 92l-13 4M94 92l-13 -1M90 93l-13 -1M88 93l-11 4M84 93l-10 4M82 94l-8 -1M114 78l-17 3M112 78l-16 -5M110 78l-17 5M80 77l-7 -1M100 81l-16 -7M94 81l-15 3M92 80l-15 -7M90 80l-11 1M70 76l-13 1M68 76l-10 -8M66 75l-7 1M60 74l-9 -4M101 79l-16 -10M95 78l-10 2M87 77l-10 1M79 76l-11 1M121 76l-11 -12M119 76l-11 -2M115 74l-15 -2M110 71l-7 -6M97 65l-10 -1M127 71l-16 -5M124 69l-11 -4M121 66l-12 -6M105 54l-8 -3M104 53l-8 -11M97 48l-8 -7M94 46l-5 -6M92 45l-6 -2M150 75l-11 -6M148 74l-17 -3M138 71l-8 -8M118 63l-11 1M116 63l-8 -6M154 55l-11 1M152 55l-15 -8M130 50l-11 2M128 50l-8 -5M125 49l-10 -7M123 49l-10 3M119 48l-7 1M169 42l-7 -5M164 35l-11 -8M159 29l-11 -6M201 49l-7 -11M193 40l-5 -11M189 36l-11 -8M170 18l-4 -6M164 13l-5 -8M227 48l-1 -17M224 43l-8 -8M220 36l-7 -5M217 29l-5 -6M216 27l-2 -8M210 16l-3 -10M208 12l-2 -7M265 46l-2 -11M263 42l-3 -14M246 20l-3 -10M239 11l-4 -11M286 53l-7 -8M286 51l1 -13M285 49l-6 -11M284 47l-2 -17M283 43l2 -12M281 33l-6 -11M280 29l-4 -9M279 25l-6 -9M279 21l-4 -10M299 49l3 -18M308 34l11 -9M309 32l4 -9M313 28l10 -6M316 24l9 -7M318 21l7 -3M321 18l10 -5M303 29l4 -14M311 13l7 -6M313 9l6 -6M314 8l2 -8M315 6l9 -7M322 -6l2 -6M323 -8l7 -6M312 52l5 -11M314 50l13 -10M319 44l12 -7M325 36l3 -9M326 34l11 -6M332 24l7 -6M333 23l3 -9M334 21l8 -6M338 55l4 -15M339 53l14 -10M343 46l10 -10M344 45l1 -10M347 39l11 -10M348 37l2 -10M349 36l7 -9M350 34l0 -11M356 19l2 -10M360 10l6 -6M365 39l8 -5M369 34l6 -14M376 25l2 -12M380 18l3 -7M382 15l2 -6M366 57l13 -8M374 46l4 -11M381 39l7 -6M397 21l10 -7M386 45l11 -9M398 29l7 -6M403 22l7 -7M420 56l10 0M432 53l12 0M444 51l12 1M448 50l12 3M457 48l8 -3M465 48l6 -3M440 65l13 -10M443 62l13 -8M448 56l12 -11M451 51l4 -9M454 48l4 -11M460 40l12 -7M467 28l3 -10M470 23l6 -5M414 67l17 -4M418 66l16 -0M423 63l8 -8M425 62l11 -1M430 60l12 -9M440 56l9 -2M442 55l9 -9M447 53l9 -0M447 77l11 -3M451 76l16 -3M461 69l16 -2M469 64l6 -10M476 60l5 -6M451 72l9 -10M463 62l7 -11M469 57l5 -7M472 54l7 -11M214 163l-9 8M209 166l-10 3M205 168l-10 3M200 171l-7 6M195 174l-7 3M364 143l10 9M368 145l12 11M373 147l10 -0M383 150l6 5M392 153l11 -1M396 154l7 1M398 155l7 4M319 34l13 -6M329 31l9 -0M331 31l10 -8M345 28l9 2M354 44l-12 -0M353 43l-9 -6M345 41l-12 -7M337 39l-10 -6M333 38l-12 -5M326 36l-8 -7M322 35l-6 -3M196 158l-17 1M192 159l-13 -0M186 161l-9 6M164 164l-11 -1M158 164l-8 3M124 140l-10 13M121 142l-9 13M114 147l-6 8M102 157l-5 9M90 48l-5 -12M87 46l-8 -11M86 44l-14 -8M81 40l-8 -10M80 39l-8 -4M74 34l-12 -5M72 33l-8 -10M70 31l-7 -2M69 30l-5 -9M66 28l-5 -9M64 26l-7 -2M427 47l13 -1M431 46l16 -1M436 44l13 -10M445 39l15 -3M456 34l8 -3M458 33l9 -8M460 32l9 -3M463 30l11 -2M470 26l8 -2M472 25l6 -8M158 152l10 5M164 153l15 -2M168 154l16 1M170 155l12 9M172 155l10 1M196 163l5 4M198 164l10 -0M200 165l8 7M126 48l-11 -11M110 41l-11 -2M100 37l-9 -7M419 27l-6 -9M418 26l-11 -4M410 20l-9 -12M401 12l-4 -7M389 2l-5 -9M429 142l-11 4M425 146l-5 10M423 148l-12 7M416 154l-8 12M410 160l-5 12M408 161l-12 5M407 162l-3 8M132 54l-12 -4M129 51l-15 -3M123 47l-14 -3M121 45l-8 -8M113 39l-11 -4M110 37l-7 -3M211 148l8 9M214 151l6 10M219 154l11 2M220 155l5 6M230 162l5 6M424 46l-17 2M415 43l-11 -6M413 43l-11 -1M403 40l-9 -8M390 36l-10 -1M426 149l5 10M430 153l13 7M432 155l5 8M433 156l9 6M436 159l9 4M438 160l6 12M442 165l8 4M444 168l10 5M446 169l4 8M447 171l8 4M448 172l4 9M450 174l8 5M408 32l-14 -3M398 25l-13 -3M397 24l-8 -8M391 21l-9 -2M421 25l8 -11M430 17l3 -8M72 159l-15 -2M58 162l-13 5M56 163l-8 -2M42 165l-10 3M40 165l-7 -1M36 166l-8 -3M356 45l9 2M363 44l11 2M369 43l6 -2M384 154l10 4M388 155l8 6M394 157l12 -2M396 157l9 4M403 159l12 6M409 160l8 -1M411 160l6 4M417 161l8 -2M85 35l-6 -8M75 28l-8 -14M69 23l-7 -8M66 20l-8 -9M63 18l-4 -7M60 15l-5 -7M52 7l-3 -7M46 1l-4 -7M45 -1l-6 -4M117 54l16 -5M119 53l12 -12M132 44l9 -10M137 41l9 -3M202 142l-12 7M199 144l-14 9M187 155l-8 5M186 157l-3 7M406 29l12 -10M413 26l7 -8M426 20l12 -0M428 19l8 -6M433 17l9 -2M455 140l12 -3M471 144l12 0M497 152l8 1M205 50l-12 -3M201 50l-8 -4M197 50l-10 -2M148 139l-13 9M144 140l-14 9M138 141l-13 -2M123 144l-12 -1M99 150l-6 1" stroke="#a1c1cf" stroke-width="1.3" stroke-linecap="round" fill="none"/>
<path d="M498 84l12 2M518 81l11 1M485 107l10 1M517 118l7 5M461 126l9 8M439 116l7 12M465 138l8 2M429 127l7 8M441 138l7 14M447 143l9 12M454 150l7 5M465 162l9 5M385 128l11 5M392 135l7 13M394 136l11 6M408 147l7 9M416 153l9 4M424 159l7 10M430 161l7 1M431 162l5 4M365 145l3 10M366 146l7 7M367 148l2 9M374 163l3 11M376 168l6 6M377 170l1 10M352 136l15 8M362 146l10 13M364 147l13 7M371 153l7 9M379 160l8 4M387 166l6 10M312 133l12 6M322 141l14 8M288 139l0 11M293 150l2 15M298 161l1 12M308 177l7 7M309 178l3 9M310 180l7 5M232 166l-8 10M244 142l-5 12M241 145l-5 11M236 151l-5 11M231 158l-4 14M230 159l-10 5M217 179l-7 7M164 134l-12 4M162 135l-11 11M152 141l-8 9M128 159l-7 4M132 126l-16 9M125 132l-5 8M123 134l-10 5M122 135l-4 8M114 142l-7 3M121 119l-16 -4M110 120l-13 -1M92 122l-7 2M64 91l-13 -4M48 90l-11 -2M85 86l-9 -4M72 82l-9 2M62 80l-12 -7M78 94l-8 -3M76 94l-10 3M106 78l-10 3M76 78l-12 -5M64 75l-8 -4M58 73l-9 1M99 79l-14 3M91 77l-12 2M81 76l-9 -5M105 69l-11 -1M103 68l-8 -7M126 70l-11 -13M118 64l-13 -6M140 71l-9 -1M133 69l-15 0M127 67l-11 -7M144 53l-13 -7M176 51l-10 -6M172 45l-10 -7M197 45l-13 -7M186 33l-8 -4M176 24l-8 -10M173 21l-4 -10M227 50l-8 -9M226 46l-10 -10M221 37l-1 -13M215 25l-6 -6M250 25l-12 -8M241 14l-4 -6M282 39l1 -12M282 37l-4 -9M302 44l12 -8M314 26l2 -7M320 20l6 -10M297 39l4 -15M301 32l3 -11M304 27l10 -9M309 18l2 -15M309 56l13 -8M321 41l10 -7M322 39l4 -8M336 17l5 -5M352 28l5 -8M353 27l1 -10M354 23l-0 -8M359 12l1 -11M361 6l5 -9M360 45l12 -7M366 38l4 -9M371 31l4 -9M385 34l6 -12M400 18l6 -4M380 52l6 -17M385 46l9 -14M392 37l3 -15M393 35l9 -7M428 54l16 1M446 50l10 -7M459 48l12 1M463 48l7 1M439 66l5 -11M456 45l5 -14M459 42l2 -11M462 37l7 -6M463 35l5 -11M465 31l3 -10M438 57l10 -7M443 55l10 -1M451 52l7 -1M453 52l7 -4M459 70l11 -11M466 66l7 -7M468 65l9 -3M482 55l5 -6M489 50l4 -6M443 78l14 -7M449 73l11 -6M458 66l10 -5M462 63l10 -4M466 59l4 -8M481 46l3 -7M218 162l-10 8M216 163l-12 2M202 170l-13 1M196 173l-5 6M369 145l10 1M402 156l5 4M315 34l13 -8M335 30l11 -8M343 29l9 -5M358 45l-16 1M339 39l-8 1M331 37l-8 -1M190 160l-14 9M182 161l-9 4M176 162l-10 -3M160 164l-11 -3M100 159l-9 4M99 160l-7 8M97 161l-7 4M440 42l9 -7M444 40l10 -11M453 36l10 -3M166 154l8 4M181 158l9 7M185 159l8 5M187 160l10 -1M121 45l-12 -3M117 44l-14 0M115 43l-7 -6M423 30l-7 -10M419 152l-7 9M414 156l-10 4M207 146l11 11M209 147l10 4M222 156l10 2M224 157l5 7M225 158l8 4M409 42l-14 2M405 40l-11 0M392 37l-9 -6M407 31l-10 -11M381 15l-9 -3M418 27l5 -10M427 19l4 -8M432 14l5 -11M435 11l4 -10M81 157l-9 8M74 159l-9 5M70 160l-9 5M54 163l-12 5M48 164l-10 -2M34 166l-10 3M336 48l14 2M401 158l9 -2M80 31l-11 -3M57 12l-4 -9M134 43l10 -2M193 150l-10 6M180 162l-4 7M179 164l-8 4M404 30l15 -4M417 24l8 -9M421 23l8 -6M422 22l8 0M432 18l9 -6M449 139l13 6M467 143l12 1M473 144l9 7M488 149l8 4M215 51l-9 3M185 49l-7 -2M150 139l-11 -2M117 145l-6 4M115 146l-8 -0M105 148l-6 3" stroke="#c4dfe9" stroke-width="1.3" stroke-linecap="round" fill="none"/>
<g fill="#cfe6f0"><circle cx="251" cy="99" r="1.4"/><circle cx="239" cy="99" r="1.2"/><circle cx="238" cy="98" r="0.9"/><circle cx="223" cy="106" r="1.3"/><circle cx="214" cy="105" r="0.8"/><circle cx="214" cy="105" r="0.9"/><circle cx="388" cy="138" r="0.9"/><circle cx="277" cy="134" r="0.8"/><circle cx="310" cy="50" r="1.4"/><circle cx="316" cy="49" r="1.0"/><circle cx="335" cy="41" r="1.4"/><circle cx="105" cy="79" r="0.9"/><circle cx="265" cy="122" r="1.3"/><circle cx="263" cy="109" r="1.4"/><circle cx="259" cy="62" r="1.6"/><circle cx="263" cy="66" r="1.4"/><circle cx="385" cy="98" r="1.7"/><circle cx="387" cy="96" r="1.0"/><circle cx="135" cy="124" r="1.7"/><circle cx="232" cy="115" r="1.5"/><circle cx="303" cy="37" r="1.5"/><circle cx="145" cy="108" r="1.3"/><circle cx="167" cy="102" r="1.4"/><circle cx="125" cy="143" r="1.1"/><circle cx="298" cy="82" r="1.3"/><circle cx="158" cy="106" r="1.0"/><circle cx="389" cy="41" r="1.7"/><circle cx="433" cy="37" r="0.8"/><circle cx="74" cy="85" r="1.4"/><circle cx="138" cy="110" r="1.6"/><circle cx="176" cy="116" r="1.4"/><circle cx="150" cy="135" r="1.6"/><circle cx="52" cy="105" r="1.3"/><circle cx="179" cy="130" r="1.4"/><circle cx="182" cy="132" r="1.3"/><circle cx="207" cy="103" r="1.7"/><circle cx="184" cy="117" r="0.9"/><circle cx="368" cy="100" r="1.0"/><circle cx="384" cy="105" r="1.2"/><circle cx="185" cy="96" r="1.4"/><circle cx="194" cy="98" r="1.3"/><circle cx="207" cy="103" r="1.2"/><circle cx="218" cy="60" r="1.2"/><circle cx="218" cy="65" r="0.9"/><circle cx="194" cy="63" r="1.2"/><circle cx="180" cy="107" r="1.2"/><circle cx="183" cy="107" r="1.0"/><circle cx="188" cy="114" r="1.6"/><circle cx="209" cy="111" r="1.1"/><circle cx="363" cy="88" r="1.0"/><circle cx="333" cy="129" r="1.1"/><circle cx="439" cy="100" r="1.4"/><circle cx="156" cy="142" r="1.1"/><circle cx="201" cy="157" r="1.3"/><circle cx="409" cy="75" r="1.4"/><circle cx="415" cy="83" r="0.9"/><circle cx="172" cy="66" r="1.2"/><circle cx="425" cy="124" r="1.2"/><circle cx="418" cy="129" r="1.1"/><circle cx="405" cy="142" r="1.6"/><circle cx="247" cy="78" r="1.5"/><circle cx="293" cy="91" r="1.0"/><circle cx="172" cy="96" r="1.2"/><circle cx="410" cy="74" r="1.5"/><circle cx="458" cy="83" r="1.6"/><circle cx="428" cy="77" r="1.5"/><circle cx="481" cy="91" r="1.1"/><circle cx="498" cy="87" r="1.3"/><circle cx="483" cy="93" r="1.7"/><circle cx="506" cy="99" r="1.0"/><circle cx="515" cy="100" r="1.2"/><circle cx="485" cy="109" r="1.4"/><circle cx="523" cy="139" r="1.1"/><circle cx="469" cy="142" r="1.2"/><circle cx="478" cy="147" r="1.7"/><circle cx="444" cy="134" r="1.1"/><circle cx="470" cy="167" r="1.6"/><circle cx="424" cy="143" r="1.3"/><circle cx="453" cy="153" r="1.3"/><circle cx="423" cy="133" r="1.0"/><circle cx="391" cy="128" r="1.1"/><circle cx="411" cy="140" r="1.0"/><circle cx="369" cy="151" r="1.1"/><circle cx="374" cy="163" r="1.4"/><circle cx="382" cy="179" r="1.3"/><circle cx="386" cy="184" r="0.9"/><circle cx="371" cy="147" r="1.1"/><circle cx="385" cy="163" r="1.4"/><circle cx="390" cy="170" r="1.4"/><circle cx="303" cy="165" r="0.9"/><circle cx="303" cy="170" r="1.7"/><circle cx="230" cy="162" r="1.3"/><circle cx="218" cy="182" r="0.9"/><circle cx="208" cy="194" r="1.5"/><circle cx="215" cy="143" r="1.4"/><circle cx="201" cy="195" r="0.8"/><circle cx="200" cy="151" r="0.9"/><circle cx="193" cy="164" r="1.2"/><circle cx="185" cy="192" r="1.2"/><circle cx="187" cy="140" r="0.9"/><circle cx="182" cy="155" r="1.1"/><circle cx="177" cy="159" r="1.4"/><circle cx="140" cy="138" r="1.7"/><circle cx="140" cy="141" r="1.0"/><circle cx="122" cy="141" r="0.9"/><circle cx="130" cy="133" r="1.2"/><circle cx="110" cy="143" r="1.4"/><circle cx="108" cy="145" r="1.5"/><circle cx="114" cy="120" r="1.0"/><circle cx="86" cy="122" r="1.5"/><circle cx="93" cy="114" r="1.6"/><circle cx="92" cy="124" r="1.6"/><circle cx="106" cy="102" r="0.9"/><circle cx="46" cy="75" r="1.6"/><circle cx="81" cy="92" r="1.3"/><circle cx="87" cy="79" r="0.9"/><circle cx="115" cy="68" r="0.8"/><circle cx="100" cy="57" r="1.7"/><circle cx="116" cy="66" r="1.3"/><circle cx="91" cy="44" r="1.0"/><circle cx="87" cy="44" r="1.1"/><circle cx="122" cy="48" r="1.1"/><circle cx="154" cy="65" r="1.3"/><circle cx="157" cy="35" r="1.3"/><circle cx="159" cy="48" r="1.7"/><circle cx="185" cy="51" r="1.3"/><circle cx="184" cy="46" r="1.2"/><circle cx="196" cy="41" r="1.0"/><circle cx="196" cy="40" r="1.1"/><circle cx="159" cy="12" r="1.7"/><circle cx="213" cy="22" r="0.8"/><circle cx="257" cy="30" r="1.6"/><circle cx="251" cy="22" r="1.4"/><circle cx="310" cy="41" r="1.3"/><circle cx="313" cy="27" r="1.1"/><circle cx="354" cy="17" r="1.3"/><circle cx="342" cy="38" r="0.8"/><circle cx="393" cy="35" r="1.1"/><circle cx="408" cy="17" r="1.7"/><circle cx="399" cy="32" r="0.9"/><circle cx="406" cy="22" r="1.2"/><circle cx="438" cy="54" r="1.5"/><circle cx="418" cy="46" r="1.5"/><circle cx="458" cy="35" r="1.2"/><circle cx="473" cy="28" r="1.6"/><circle cx="471" cy="19" r="1.4"/><circle cx="427" cy="64" r="1.5"/><circle cx="426" cy="60" r="1.7"/><circle cx="455" cy="58" r="1.6"/><circle cx="469" cy="50" r="1.0"/><circle cx="485" cy="48" r="1.0"/><circle cx="471" cy="69" r="1.0"/><circle cx="473" cy="59" r="1.1"/><circle cx="473" cy="54" r="0.9"/><circle cx="519" cy="78" r="1.2"/><circle cx="482" cy="82" r="1.6"/><circle cx="521" cy="78" r="1.2"/><circle cx="71" cy="88" r="1.3"/><circle cx="49" cy="91" r="1.0"/><circle cx="125" cy="59" r="1.2"/><circle cx="120" cy="56" r="1.2"/><circle cx="360" cy="15" r="1.3"/><circle cx="262" cy="150" r="1.0"/><circle cx="134" cy="48" r="1.6"/><circle cx="97" cy="70" r="0.9"/><circle cx="86" cy="68" r="1.0"/><circle cx="384" cy="144" r="1.4"/><circle cx="443" cy="143" r="0.8"/><circle cx="381" cy="48" r="1.1"/><circle cx="385" cy="44" r="1.1"/><circle cx="399" cy="39" r="0.9"/><circle cx="144" cy="122" r="1.0"/><circle cx="134" cy="130" r="1.2"/><circle cx="104" cy="147" r="1.0"/><circle cx="257" cy="19" r="0.9"/><circle cx="414" cy="80" r="1.6"/><circle cx="507" cy="103" r="1.6"/><circle cx="238" cy="185" r="0.9"/><circle cx="143" cy="59" r="1.1"/><circle cx="336" cy="149" r="1.0"/><circle cx="347" cy="159" r="1.5"/><circle cx="355" cy="168" r="1.2"/><circle cx="69" cy="102" r="1.0"/><circle cx="64" cy="97" r="0.8"/><circle cx="61" cy="103" r="1.0"/><circle cx="47" cy="99" r="0.9"/><circle cx="417" cy="56" r="1.1"/><circle cx="430" cy="52" r="1.3"/><circle cx="399" cy="139" r="1.5"/><circle cx="492" cy="89" r="1.7"/><circle cx="509" cy="88" r="0.8"/><circle cx="425" cy="92" r="1.1"/><circle cx="453" cy="98" r="0.9"/><circle cx="326" cy="31" r="1.0"/><circle cx="352" cy="12" r="1.7"/><circle cx="250" cy="151" r="1.1"/><circle cx="240" cy="160" r="0.9"/><circle cx="141" cy="117" r="1.0"/><circle cx="129" cy="161" r="1.2"/><circle cx="351" cy="27" r="1.6"/><circle cx="80" cy="140" r="1.4"/><circle cx="317" cy="179" r="1.4"/><circle cx="133" cy="63" r="1.2"/><circle cx="76" cy="96" r="1.3"/><circle cx="354" cy="170" r="1.0"/><circle cx="227" cy="33" r="0.9"/><circle cx="269" cy="163" r="1.2"/><circle cx="193" cy="150" r="0.8"/><circle cx="462" cy="131" r="1.5"/><circle cx="412" cy="151" r="1.2"/><circle cx="184" cy="161" r="1.2"/><circle cx="167" cy="53" r="0.8"/><circle cx="307" cy="28" r="1.6"/><circle cx="314" cy="30" r="1.1"/><circle cx="318" cy="10" r="1.5"/><circle cx="142" cy="103" r="1.5"/><circle cx="134" cy="109" r="1.5"/><circle cx="113" cy="112" r="1.1"/><circle cx="103" cy="115" r="1.3"/><circle cx="204" cy="170" r="1.1"/><circle cx="326" cy="31" r="1.6"/><circle cx="384" cy="147" r="1.4"/><circle cx="387" cy="152" r="1.3"/><circle cx="403" cy="156" r="1.5"/><circle cx="499" cy="141" r="1.5"/><circle cx="179" cy="159" r="1.0"/><circle cx="178" cy="165" r="0.8"/><circle cx="490" cy="27" r="1.6"/><circle cx="508" cy="15" r="1.3"/><circle cx="119" cy="147" r="1.2"/><circle cx="102" cy="161" r="1.6"/><circle cx="149" cy="33" r="1.5"/><circle cx="447" cy="161" r="1.5"/><circle cx="259" cy="152" r="1.6"/><circle cx="429" cy="169" r="1.6"/><circle cx="370" cy="48" r="1.6"/><circle cx="166" cy="150" r="1.6"/><circle cx="129" cy="45" r="1.3"/><circle cx="117" cy="39" r="1.5"/><circle cx="450" cy="158" r="1.4"/><circle cx="454" cy="163" r="1.2"/><circle cx="110" cy="44" r="1.4"/><circle cx="444" cy="28" r="1.3"/><circle cx="153" cy="167" r="1.3"/><circle cx="420" cy="25" r="1.0"/><circle cx="412" cy="24" r="1.6"/><circle cx="401" cy="17" r="1.3"/><circle cx="413" cy="35" r="1.2"/><circle cx="427" cy="27" r="1.3"/><circle cx="105" cy="38" r="1.5"/><circle cx="437" cy="159" r="1.6"/><circle cx="379" cy="38" r="1.2"/><circle cx="396" cy="27" r="1.6"/><circle cx="431" cy="164" r="1.5"/><circle cx="438" cy="159" r="1.3"/><circle cx="399" cy="24" r="1.6"/><circle cx="374" cy="12" r="0.9"/><circle cx="407" cy="163" r="1.0"/><circle cx="350" cy="50" r="1.2"/><circle cx="356" cy="49" r="1.0"/><circle cx="182" cy="141" r="1.2"/><circle cx="145" cy="144" r="1.6"/><circle cx="57" cy="165" r="1.2"/><circle cx="349" cy="49" r="0.9"/><circle cx="44" cy="-3" r="1.0"/><circle cx="188" cy="156" r="1.5"/><circle cx="207" cy="46" r="1.6"/><circle cx="214" cy="38" r="1.5"/><circle cx="465" cy="140" r="1.4"/><circle cx="209" cy="50" r="1.6"/><circle cx="190" cy="52" r="0.8"/><circle cx="116" cy="144" r="1.1"/><circle cx="442" cy="36" r="0.9"/></g>
</svg>
<div class="jan"><span style="left:55.2px;top:30.1px;z-index:9;transform:scale(0.810,0.994)">J</span><span style="left:101.2px;top:29.8px;z-index:8;transform:scale(0.889,0.989)">A</span><span style="left:167.2px;top:29.5px;z-index:7;transform:scale(1.113,0.982)">N</span><span style="left:248.2px;top:29.1px;z-index:6;transform:scale(0.973,0.975)">U</span><span style="left:319.1px;top:28.8px;z-index:5;transform:scale(0.963,0.969)">A</span><span style="left:382.7px;top:28.5px;z-index:4;transform:scale(0.825,0.963)">R</span><span style="left:438.6px;top:28.2px;z-index:3;transform:scale(0.890,0.959)">Y</span></div>
</div>
</div>
</body>
</html>
